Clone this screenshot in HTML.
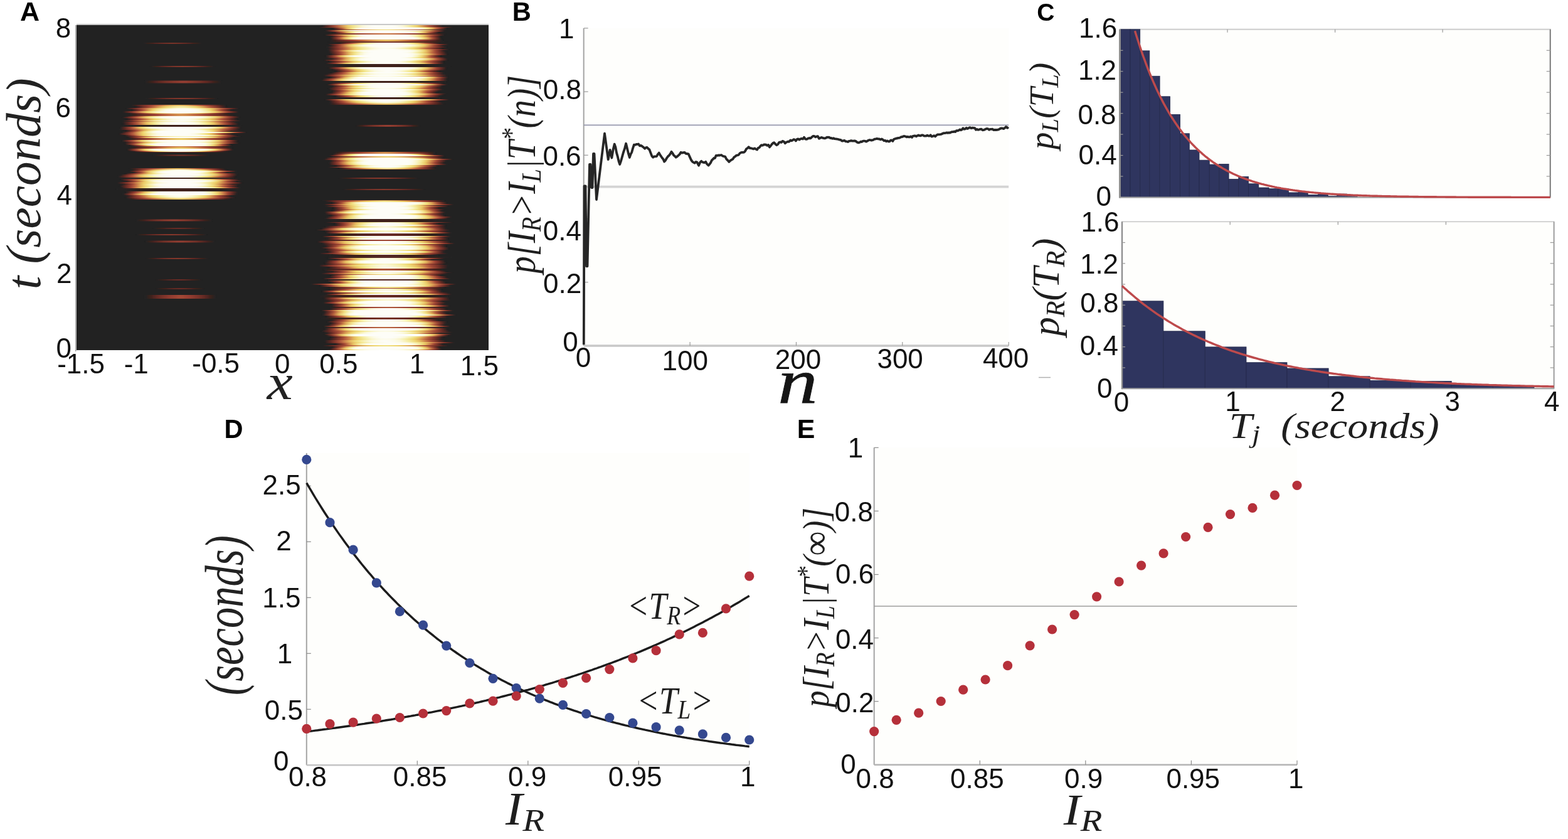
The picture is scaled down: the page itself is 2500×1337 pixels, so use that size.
<!DOCTYPE html><html><head><meta charset="utf-8"><title>Figure</title><style>html,body{margin:0;padding:0;background:#fff;overflow:hidden}svg{display:block}</style></head><body>
<svg width="2500" height="1337" viewBox="0 0 2500 1337">
<defs><linearGradient id="g0"><stop offset="0.000" stop-color="#222222"/><stop offset="0.042" stop-color="#2b2120"/><stop offset="0.083" stop-color="#34201e"/><stop offset="0.125" stop-color="#3d211e"/><stop offset="0.167" stop-color="#47231f"/><stop offset="0.208" stop-color="#512621"/><stop offset="0.250" stop-color="#5a2822"/><stop offset="0.292" stop-color="#622a24"/><stop offset="0.333" stop-color="#682c25"/><stop offset="0.375" stop-color="#6d2e26"/><stop offset="0.417" stop-color="#712f27"/><stop offset="0.458" stop-color="#753128"/><stop offset="0.500" stop-color="#763129"/><stop offset="0.542" stop-color="#753128"/><stop offset="0.583" stop-color="#712f27"/><stop offset="0.625" stop-color="#6d2e26"/><stop offset="0.667" stop-color="#682c25"/><stop offset="0.708" stop-color="#622a24"/><stop offset="0.750" stop-color="#5a2822"/><stop offset="0.792" stop-color="#512621"/><stop offset="0.833" stop-color="#47231f"/><stop offset="0.875" stop-color="#3d211e"/><stop offset="0.917" stop-color="#34201e"/><stop offset="0.958" stop-color="#2b2120"/><stop offset="1.000" stop-color="#222222"/></linearGradient><linearGradient id="g1"><stop offset="0.000" stop-color="#222222"/><stop offset="0.042" stop-color="#2d2120"/><stop offset="0.083" stop-color="#37201d"/><stop offset="0.125" stop-color="#44231f"/><stop offset="0.167" stop-color="#502521"/><stop offset="0.208" stop-color="#5c2823"/><stop offset="0.250" stop-color="#662b24"/><stop offset="0.292" stop-color="#6d2e26"/><stop offset="0.333" stop-color="#743028"/><stop offset="0.375" stop-color="#7a332a"/><stop offset="0.417" stop-color="#7f352b"/><stop offset="0.458" stop-color="#83362c"/><stop offset="0.500" stop-color="#85372c"/><stop offset="0.542" stop-color="#83362c"/><stop offset="0.583" stop-color="#7f352b"/><stop offset="0.625" stop-color="#7a332a"/><stop offset="0.667" stop-color="#743028"/><stop offset="0.708" stop-color="#6d2e26"/><stop offset="0.750" stop-color="#662b24"/><stop offset="0.792" stop-color="#5c2823"/><stop offset="0.833" stop-color="#502521"/><stop offset="0.875" stop-color="#44231f"/><stop offset="0.917" stop-color="#37201d"/><stop offset="0.958" stop-color="#2d2120"/><stop offset="1.000" stop-color="#222222"/></linearGradient><linearGradient id="g2"><stop offset="0.000" stop-color="#222222"/><stop offset="0.042" stop-color="#2f211f"/><stop offset="0.083" stop-color="#3b211e"/><stop offset="0.125" stop-color="#4b2420"/><stop offset="0.167" stop-color="#592822"/><stop offset="0.208" stop-color="#662b24"/><stop offset="0.250" stop-color="#6f2f27"/><stop offset="0.292" stop-color="#783229"/><stop offset="0.333" stop-color="#80352b"/><stop offset="0.375" stop-color="#87382d"/><stop offset="0.417" stop-color="#8d3a2e"/><stop offset="0.458" stop-color="#913c30"/><stop offset="0.500" stop-color="#943d30"/><stop offset="0.542" stop-color="#913c30"/><stop offset="0.583" stop-color="#8d3a2e"/><stop offset="0.625" stop-color="#87382d"/><stop offset="0.667" stop-color="#80352b"/><stop offset="0.708" stop-color="#783229"/><stop offset="0.750" stop-color="#6f2f27"/><stop offset="0.792" stop-color="#662b24"/><stop offset="0.833" stop-color="#592822"/><stop offset="0.875" stop-color="#4b2420"/><stop offset="0.917" stop-color="#3b211e"/><stop offset="0.958" stop-color="#2f211f"/><stop offset="1.000" stop-color="#222222"/></linearGradient><linearGradient id="g3"><stop offset="0.000" stop-color="#222222"/><stop offset="0.042" stop-color="#3c211e"/><stop offset="0.083" stop-color="#5c2823"/><stop offset="0.125" stop-color="#753128"/><stop offset="0.167" stop-color="#8b392e"/><stop offset="0.208" stop-color="#9f4434"/><stop offset="0.250" stop-color="#b0583b"/><stop offset="0.292" stop-color="#bf6a42"/><stop offset="0.333" stop-color="#cc814a"/><stop offset="0.375" stop-color="#d69752"/><stop offset="0.417" stop-color="#dea958"/><stop offset="0.458" stop-color="#e2b45d"/><stop offset="0.500" stop-color="#e4ba5f"/><stop offset="0.542" stop-color="#e2b45d"/><stop offset="0.583" stop-color="#dea958"/><stop offset="0.625" stop-color="#d69752"/><stop offset="0.667" stop-color="#cc814a"/><stop offset="0.708" stop-color="#bf6a42"/><stop offset="0.750" stop-color="#b0583b"/><stop offset="0.792" stop-color="#9f4434"/><stop offset="0.833" stop-color="#8b392e"/><stop offset="0.875" stop-color="#753128"/><stop offset="0.917" stop-color="#5c2823"/><stop offset="0.958" stop-color="#3c211e"/><stop offset="1.000" stop-color="#222222"/></linearGradient><linearGradient id="g4"><stop offset="0.000" stop-color="#222222"/><stop offset="0.042" stop-color="#482420"/><stop offset="0.083" stop-color="#702f27"/><stop offset="0.125" stop-color="#8f3b2f"/><stop offset="0.167" stop-color="#aa5239"/><stop offset="0.208" stop-color="#c36f44"/><stop offset="0.250" stop-color="#d69752"/><stop offset="0.292" stop-color="#e4b85e"/><stop offset="0.333" stop-color="#edd169"/><stop offset="0.375" stop-color="#f0dc7d"/><stop offset="0.417" stop-color="#f3e48f"/><stop offset="0.458" stop-color="#f5ea9d"/><stop offset="0.500" stop-color="#f5eda5"/><stop offset="0.542" stop-color="#f5ea9d"/><stop offset="0.583" stop-color="#f3e48f"/><stop offset="0.625" stop-color="#f0dc7d"/><stop offset="0.667" stop-color="#edd169"/><stop offset="0.708" stop-color="#e4b85e"/><stop offset="0.750" stop-color="#d69752"/><stop offset="0.792" stop-color="#c36f44"/><stop offset="0.833" stop-color="#aa5239"/><stop offset="0.875" stop-color="#8f3b2f"/><stop offset="0.917" stop-color="#702f27"/><stop offset="0.958" stop-color="#482420"/><stop offset="1.000" stop-color="#222222"/></linearGradient><linearGradient id="g5"><stop offset="0.000" stop-color="#222222"/><stop offset="0.042" stop-color="#522621"/><stop offset="0.083" stop-color="#7e342b"/><stop offset="0.125" stop-color="#a24935"/><stop offset="0.167" stop-color="#c36e44"/><stop offset="0.208" stop-color="#dba256"/><stop offset="0.250" stop-color="#eac965"/><stop offset="0.292" stop-color="#f1de80"/><stop offset="0.333" stop-color="#f5eb9d"/><stop offset="0.375" stop-color="#f8f2ba"/><stop offset="0.417" stop-color="#faf7d3"/><stop offset="0.458" stop-color="#fbfae2"/><stop offset="0.500" stop-color="#fcfae6"/><stop offset="0.542" stop-color="#fbfae2"/><stop offset="0.583" stop-color="#faf7d3"/><stop offset="0.625" stop-color="#f8f2ba"/><stop offset="0.667" stop-color="#f5eb9d"/><stop offset="0.708" stop-color="#f1de80"/><stop offset="0.750" stop-color="#eac965"/><stop offset="0.792" stop-color="#dba256"/><stop offset="0.833" stop-color="#c36e44"/><stop offset="0.875" stop-color="#a24935"/><stop offset="0.917" stop-color="#7e342b"/><stop offset="0.958" stop-color="#522621"/><stop offset="1.000" stop-color="#222222"/></linearGradient><linearGradient id="g6"><stop offset="0.000" stop-color="#222222"/><stop offset="0.042" stop-color="#5e2923"/><stop offset="0.083" stop-color="#8f3b2f"/><stop offset="0.125" stop-color="#ba6340"/><stop offset="0.167" stop-color="#dba256"/><stop offset="0.208" stop-color="#eed46a"/><stop offset="0.250" stop-color="#f4e795"/><stop offset="0.292" stop-color="#f8f3c1"/><stop offset="0.333" stop-color="#fbfae3"/><stop offset="0.375" stop-color="#fdfcf3"/><stop offset="0.417" stop-color="#fdfdf7"/><stop offset="0.458" stop-color="#fdfdf7"/><stop offset="0.500" stop-color="#fdfdf7"/><stop offset="0.542" stop-color="#fdfdf7"/><stop offset="0.583" stop-color="#fdfdf7"/><stop offset="0.625" stop-color="#fdfcf3"/><stop offset="0.667" stop-color="#fbfae3"/><stop offset="0.708" stop-color="#f8f3c1"/><stop offset="0.750" stop-color="#f4e795"/><stop offset="0.792" stop-color="#eed46a"/><stop offset="0.833" stop-color="#dba256"/><stop offset="0.875" stop-color="#ba6340"/><stop offset="0.917" stop-color="#8f3b2f"/><stop offset="0.958" stop-color="#5e2923"/><stop offset="1.000" stop-color="#222222"/></linearGradient><linearGradient id="g7"><stop offset="0.000" stop-color="#222222"/><stop offset="0.042" stop-color="#4f2521"/><stop offset="0.083" stop-color="#7a332a"/><stop offset="0.125" stop-color="#9e4333"/><stop offset="0.167" stop-color="#bd6741"/><stop offset="0.208" stop-color="#d59552"/><stop offset="0.250" stop-color="#e6be61"/><stop offset="0.292" stop-color="#efd874"/><stop offset="0.333" stop-color="#f3e590"/><stop offset="0.375" stop-color="#f6eeaa"/><stop offset="0.417" stop-color="#f8f3c1"/><stop offset="0.458" stop-color="#faf7d4"/><stop offset="0.500" stop-color="#fbf9de"/><stop offset="0.542" stop-color="#faf7d4"/><stop offset="0.583" stop-color="#f8f3c1"/><stop offset="0.625" stop-color="#f6eeaa"/><stop offset="0.667" stop-color="#f3e590"/><stop offset="0.708" stop-color="#efd874"/><stop offset="0.750" stop-color="#e6be61"/><stop offset="0.792" stop-color="#d59552"/><stop offset="0.833" stop-color="#bd6741"/><stop offset="0.875" stop-color="#9e4333"/><stop offset="0.917" stop-color="#7a332a"/><stop offset="0.958" stop-color="#4f2521"/><stop offset="1.000" stop-color="#222222"/></linearGradient><linearGradient id="g8"><stop offset="0.000" stop-color="#222222"/><stop offset="0.042" stop-color="#38201d"/><stop offset="0.083" stop-color="#532621"/><stop offset="0.125" stop-color="#6b2d26"/><stop offset="0.167" stop-color="#7d342a"/><stop offset="0.208" stop-color="#8f3b2f"/><stop offset="0.250" stop-color="#9e4434"/><stop offset="0.292" stop-color="#ac543a"/><stop offset="0.333" stop-color="#b8623f"/><stop offset="0.375" stop-color="#c36e44"/><stop offset="0.417" stop-color="#ca7e49"/><stop offset="0.458" stop-color="#d08a4e"/><stop offset="0.500" stop-color="#d39150"/><stop offset="0.542" stop-color="#d08a4e"/><stop offset="0.583" stop-color="#ca7e49"/><stop offset="0.625" stop-color="#c36e44"/><stop offset="0.667" stop-color="#b8623f"/><stop offset="0.708" stop-color="#ac543a"/><stop offset="0.750" stop-color="#9e4434"/><stop offset="0.792" stop-color="#8f3b2f"/><stop offset="0.833" stop-color="#7d342a"/><stop offset="0.875" stop-color="#6b2d26"/><stop offset="0.917" stop-color="#532621"/><stop offset="0.958" stop-color="#38201d"/><stop offset="1.000" stop-color="#222222"/></linearGradient><linearGradient id="g9"><stop offset="0.000" stop-color="#222222"/><stop offset="0.042" stop-color="#602923"/><stop offset="0.083" stop-color="#933d30"/><stop offset="0.125" stop-color="#bf6942"/><stop offset="0.167" stop-color="#dfac5a"/><stop offset="0.208" stop-color="#efd874"/><stop offset="0.250" stop-color="#f5eca0"/><stop offset="0.292" stop-color="#faf6cf"/><stop offset="0.333" stop-color="#fcfbea"/><stop offset="0.375" stop-color="#fdfdf7"/><stop offset="0.417" stop-color="#fdfdf7"/><stop offset="0.458" stop-color="#fdfdf7"/><stop offset="0.500" stop-color="#fdfdf7"/><stop offset="0.542" stop-color="#fdfdf7"/><stop offset="0.583" stop-color="#fdfdf7"/><stop offset="0.625" stop-color="#fdfdf7"/><stop offset="0.667" stop-color="#fcfbea"/><stop offset="0.708" stop-color="#faf6cf"/><stop offset="0.750" stop-color="#f5eca0"/><stop offset="0.792" stop-color="#efd874"/><stop offset="0.833" stop-color="#dfac5a"/><stop offset="0.875" stop-color="#bf6942"/><stop offset="0.917" stop-color="#933d30"/><stop offset="0.958" stop-color="#602923"/><stop offset="1.000" stop-color="#222222"/></linearGradient><linearGradient id="g10"><stop offset="0.000" stop-color="#222222"/><stop offset="0.042" stop-color="#5b2823"/><stop offset="0.083" stop-color="#8c3a2e"/><stop offset="0.125" stop-color="#b55e3e"/><stop offset="0.167" stop-color="#d69852"/><stop offset="0.208" stop-color="#ebcb66"/><stop offset="0.250" stop-color="#f2e28a"/><stop offset="0.292" stop-color="#f7f0b3"/><stop offset="0.333" stop-color="#fbf8da"/><stop offset="0.375" stop-color="#fcfbec"/><stop offset="0.417" stop-color="#fdfdf7"/><stop offset="0.458" stop-color="#fdfdf7"/><stop offset="0.500" stop-color="#fdfdf7"/><stop offset="0.542" stop-color="#fdfdf7"/><stop offset="0.583" stop-color="#fdfdf7"/><stop offset="0.625" stop-color="#fcfbec"/><stop offset="0.667" stop-color="#fbf8da"/><stop offset="0.708" stop-color="#f7f0b3"/><stop offset="0.750" stop-color="#f2e28a"/><stop offset="0.792" stop-color="#ebcb66"/><stop offset="0.833" stop-color="#d69852"/><stop offset="0.875" stop-color="#b55e3e"/><stop offset="0.917" stop-color="#8c3a2e"/><stop offset="0.958" stop-color="#5b2823"/><stop offset="1.000" stop-color="#222222"/></linearGradient><linearGradient id="g11"><stop offset="0.000" stop-color="#222222"/><stop offset="0.042" stop-color="#652a24"/><stop offset="0.083" stop-color="#9a4032"/><stop offset="0.125" stop-color="#c77647"/><stop offset="0.167" stop-color="#e5bc60"/><stop offset="0.208" stop-color="#f2e086"/><stop offset="0.250" stop-color="#f7f1b9"/><stop offset="0.292" stop-color="#fbfae4"/><stop offset="0.333" stop-color="#fdfdf7"/><stop offset="0.375" stop-color="#fdfdf7"/><stop offset="0.417" stop-color="#fdfdf7"/><stop offset="0.458" stop-color="#fdfdf7"/><stop offset="0.500" stop-color="#fdfdf7"/><stop offset="0.542" stop-color="#fdfdf7"/><stop offset="0.583" stop-color="#fdfdf7"/><stop offset="0.625" stop-color="#fdfdf7"/><stop offset="0.667" stop-color="#fdfdf7"/><stop offset="0.708" stop-color="#fbfae4"/><stop offset="0.750" stop-color="#f7f1b9"/><stop offset="0.792" stop-color="#f2e086"/><stop offset="0.833" stop-color="#e5bc60"/><stop offset="0.875" stop-color="#c77647"/><stop offset="0.917" stop-color="#9a4032"/><stop offset="0.958" stop-color="#652a24"/><stop offset="1.000" stop-color="#222222"/></linearGradient><linearGradient id="g12"><stop offset="0.000" stop-color="#222222"/><stop offset="0.042" stop-color="#592722"/><stop offset="0.083" stop-color="#88382d"/><stop offset="0.125" stop-color="#b1593c"/><stop offset="0.167" stop-color="#d28d4f"/><stop offset="0.208" stop-color="#e7c162"/><stop offset="0.250" stop-color="#f1de80"/><stop offset="0.292" stop-color="#f5eda5"/><stop offset="0.333" stop-color="#f9f5cb"/><stop offset="0.375" stop-color="#fcfae4"/><stop offset="0.417" stop-color="#fcfcf1"/><stop offset="0.458" stop-color="#fdfdf7"/><stop offset="0.500" stop-color="#fdfdf7"/><stop offset="0.542" stop-color="#fdfdf7"/><stop offset="0.583" stop-color="#fcfcf1"/><stop offset="0.625" stop-color="#fcfae4"/><stop offset="0.667" stop-color="#f9f5cb"/><stop offset="0.708" stop-color="#f5eda5"/><stop offset="0.750" stop-color="#f1de80"/><stop offset="0.792" stop-color="#e7c162"/><stop offset="0.833" stop-color="#d28d4f"/><stop offset="0.875" stop-color="#b1593c"/><stop offset="0.917" stop-color="#88382d"/><stop offset="0.958" stop-color="#592722"/><stop offset="1.000" stop-color="#222222"/></linearGradient><linearGradient id="g13"><stop offset="0.000" stop-color="#222222"/><stop offset="0.042" stop-color="#542621"/><stop offset="0.083" stop-color="#81362b"/><stop offset="0.125" stop-color="#a74e37"/><stop offset="0.167" stop-color="#c87847"/><stop offset="0.208" stop-color="#e0ad5a"/><stop offset="0.250" stop-color="#eed46a"/><stop offset="0.292" stop-color="#f2e38c"/><stop offset="0.333" stop-color="#f6efac"/><stop offset="0.375" stop-color="#f9f5cb"/><stop offset="0.417" stop-color="#fbf9e1"/><stop offset="0.458" stop-color="#fcfbea"/><stop offset="0.500" stop-color="#fcfcef"/><stop offset="0.542" stop-color="#fcfbea"/><stop offset="0.583" stop-color="#fbf9e1"/><stop offset="0.625" stop-color="#f9f5cb"/><stop offset="0.667" stop-color="#f6efac"/><stop offset="0.708" stop-color="#f2e38c"/><stop offset="0.750" stop-color="#eed46a"/><stop offset="0.792" stop-color="#e0ad5a"/><stop offset="0.833" stop-color="#c87847"/><stop offset="0.875" stop-color="#a74e37"/><stop offset="0.917" stop-color="#81362b"/><stop offset="0.958" stop-color="#542621"/><stop offset="1.000" stop-color="#222222"/></linearGradient><linearGradient id="g14"><stop offset="0.000" stop-color="#222222"/><stop offset="0.042" stop-color="#262221"/><stop offset="0.083" stop-color="#292120"/><stop offset="0.125" stop-color="#2c2120"/><stop offset="0.167" stop-color="#2f211f"/><stop offset="0.208" stop-color="#32211e"/><stop offset="0.250" stop-color="#35201e"/><stop offset="0.292" stop-color="#37201d"/><stop offset="0.333" stop-color="#3a211d"/><stop offset="0.375" stop-color="#3d211e"/><stop offset="0.417" stop-color="#3f221e"/><stop offset="0.458" stop-color="#41221e"/><stop offset="0.500" stop-color="#42221f"/><stop offset="0.542" stop-color="#41221e"/><stop offset="0.583" stop-color="#3f221e"/><stop offset="0.625" stop-color="#3d211e"/><stop offset="0.667" stop-color="#3a211d"/><stop offset="0.708" stop-color="#37201d"/><stop offset="0.750" stop-color="#35201e"/><stop offset="0.792" stop-color="#32211e"/><stop offset="0.833" stop-color="#2f211f"/><stop offset="0.875" stop-color="#2c2120"/><stop offset="0.917" stop-color="#292120"/><stop offset="0.958" stop-color="#262221"/><stop offset="1.000" stop-color="#222222"/></linearGradient><linearGradient id="g15"><stop offset="0.000" stop-color="#222222"/><stop offset="0.042" stop-color="#682c25"/><stop offset="0.083" stop-color="#a04634"/><stop offset="0.125" stop-color="#cf874d"/><stop offset="0.167" stop-color="#ebcc67"/><stop offset="0.208" stop-color="#f4e998"/><stop offset="0.250" stop-color="#faf6d1"/><stop offset="0.292" stop-color="#fcfcf0"/><stop offset="0.333" stop-color="#fdfdf7"/><stop offset="0.375" stop-color="#fdfdf7"/><stop offset="0.417" stop-color="#fdfdf7"/><stop offset="0.458" stop-color="#fdfdf7"/><stop offset="0.500" stop-color="#fdfdf7"/><stop offset="0.542" stop-color="#fdfdf7"/><stop offset="0.583" stop-color="#fdfdf7"/><stop offset="0.625" stop-color="#fdfdf7"/><stop offset="0.667" stop-color="#fdfdf7"/><stop offset="0.708" stop-color="#fcfcf0"/><stop offset="0.750" stop-color="#faf6d1"/><stop offset="0.792" stop-color="#f4e998"/><stop offset="0.833" stop-color="#ebcc67"/><stop offset="0.875" stop-color="#cf874d"/><stop offset="0.917" stop-color="#a04634"/><stop offset="0.958" stop-color="#682c25"/><stop offset="1.000" stop-color="#222222"/></linearGradient><linearGradient id="g16"><stop offset="0.000" stop-color="#222222"/><stop offset="0.042" stop-color="#6c2d26"/><stop offset="0.083" stop-color="#a74d37"/><stop offset="0.125" stop-color="#d69752"/><stop offset="0.167" stop-color="#efd771"/><stop offset="0.208" stop-color="#f6efad"/><stop offset="0.250" stop-color="#fbfae3"/><stop offset="0.292" stop-color="#fdfdf7"/><stop offset="0.333" stop-color="#fdfdf7"/><stop offset="0.375" stop-color="#fdfdf7"/><stop offset="0.417" stop-color="#fdfdf7"/><stop offset="0.458" stop-color="#fdfdf7"/><stop offset="0.500" stop-color="#fdfdf7"/><stop offset="0.542" stop-color="#fdfdf7"/><stop offset="0.583" stop-color="#fdfdf7"/><stop offset="0.625" stop-color="#fdfdf7"/><stop offset="0.667" stop-color="#fdfdf7"/><stop offset="0.708" stop-color="#fdfdf7"/><stop offset="0.750" stop-color="#fbfae3"/><stop offset="0.792" stop-color="#f6efad"/><stop offset="0.833" stop-color="#efd771"/><stop offset="0.875" stop-color="#d69752"/><stop offset="0.917" stop-color="#a74d37"/><stop offset="0.958" stop-color="#6c2d26"/><stop offset="1.000" stop-color="#222222"/></linearGradient><linearGradient id="g17"><stop offset="0.000" stop-color="#222222"/><stop offset="0.042" stop-color="#4b2420"/><stop offset="0.083" stop-color="#733028"/><stop offset="0.125" stop-color="#943d30"/><stop offset="0.167" stop-color="#b1593c"/><stop offset="0.208" stop-color="#c97c49"/><stop offset="0.250" stop-color="#dda657"/><stop offset="0.292" stop-color="#e8c564"/><stop offset="0.333" stop-color="#efd975"/><stop offset="0.375" stop-color="#f2e38b"/><stop offset="0.417" stop-color="#f5eb9e"/><stop offset="0.458" stop-color="#f6efaf"/><stop offset="0.500" stop-color="#f7f1b8"/><stop offset="0.542" stop-color="#f6efaf"/><stop offset="0.583" stop-color="#f5eb9e"/><stop offset="0.625" stop-color="#f2e38b"/><stop offset="0.667" stop-color="#efd975"/><stop offset="0.708" stop-color="#e8c564"/><stop offset="0.750" stop-color="#dda657"/><stop offset="0.792" stop-color="#c97c49"/><stop offset="0.833" stop-color="#b1593c"/><stop offset="0.875" stop-color="#943d30"/><stop offset="0.917" stop-color="#733028"/><stop offset="0.958" stop-color="#4b2420"/><stop offset="1.000" stop-color="#222222"/></linearGradient><linearGradient id="g18"><stop offset="0.000" stop-color="#222222"/><stop offset="0.042" stop-color="#622a24"/><stop offset="0.083" stop-color="#963e31"/><stop offset="0.125" stop-color="#c36e44"/><stop offset="0.167" stop-color="#e2b45d"/><stop offset="0.208" stop-color="#f0dc7d"/><stop offset="0.250" stop-color="#f6efac"/><stop offset="0.292" stop-color="#fbf9dd"/><stop offset="0.333" stop-color="#fcfcf1"/><stop offset="0.375" stop-color="#fdfdf7"/><stop offset="0.417" stop-color="#fdfdf7"/><stop offset="0.458" stop-color="#fdfdf7"/><stop offset="0.500" stop-color="#fdfdf7"/><stop offset="0.542" stop-color="#fdfdf7"/><stop offset="0.583" stop-color="#fdfdf7"/><stop offset="0.625" stop-color="#fdfdf7"/><stop offset="0.667" stop-color="#fcfcf1"/><stop offset="0.708" stop-color="#fbf9dd"/><stop offset="0.750" stop-color="#f6efac"/><stop offset="0.792" stop-color="#f0dc7d"/><stop offset="0.833" stop-color="#e2b45d"/><stop offset="0.875" stop-color="#c36e44"/><stop offset="0.917" stop-color="#963e31"/><stop offset="0.958" stop-color="#622a24"/><stop offset="1.000" stop-color="#222222"/></linearGradient><linearGradient id="g19"><stop offset="0.000" stop-color="#222222"/><stop offset="0.042" stop-color="#3f211e"/><stop offset="0.083" stop-color="#612923"/><stop offset="0.125" stop-color="#7a332a"/><stop offset="0.167" stop-color="#913c30"/><stop offset="0.208" stop-color="#a64d37"/><stop offset="0.250" stop-color="#b8623f"/><stop offset="0.292" stop-color="#c87948"/><stop offset="0.333" stop-color="#d49351"/><stop offset="0.375" stop-color="#dfaa59"/><stop offset="0.417" stop-color="#e4b95f"/><stop offset="0.458" stop-color="#e8c564"/><stop offset="0.500" stop-color="#ebcb66"/><stop offset="0.542" stop-color="#e8c564"/><stop offset="0.583" stop-color="#e4b95f"/><stop offset="0.625" stop-color="#dfaa59"/><stop offset="0.667" stop-color="#d49351"/><stop offset="0.708" stop-color="#c87948"/><stop offset="0.750" stop-color="#b8623f"/><stop offset="0.792" stop-color="#a64d37"/><stop offset="0.833" stop-color="#913c30"/><stop offset="0.875" stop-color="#7a332a"/><stop offset="0.917" stop-color="#612923"/><stop offset="0.958" stop-color="#3f211e"/><stop offset="1.000" stop-color="#222222"/></linearGradient><linearGradient id="g20"><stop offset="0.000" stop-color="#222222"/><stop offset="0.042" stop-color="#6f2f27"/><stop offset="0.083" stop-color="#ad553a"/><stop offset="0.125" stop-color="#dea758"/><stop offset="0.167" stop-color="#f1de81"/><stop offset="0.208" stop-color="#f8f3c2"/><stop offset="0.250" stop-color="#fcfcee"/><stop offset="0.292" stop-color="#fdfdf7"/><stop offset="0.333" stop-color="#fdfdf7"/><stop offset="0.375" stop-color="#fdfdf7"/><stop offset="0.417" stop-color="#fdfdf7"/><stop offset="0.458" stop-color="#fdfdf7"/><stop offset="0.500" stop-color="#fdfdf7"/><stop offset="0.542" stop-color="#fdfdf7"/><stop offset="0.583" stop-color="#fdfdf7"/><stop offset="0.625" stop-color="#fdfdf7"/><stop offset="0.667" stop-color="#fdfdf7"/><stop offset="0.708" stop-color="#fdfdf7"/><stop offset="0.750" stop-color="#fcfcee"/><stop offset="0.792" stop-color="#f8f3c2"/><stop offset="0.833" stop-color="#f1de81"/><stop offset="0.875" stop-color="#dea758"/><stop offset="0.917" stop-color="#ad553a"/><stop offset="0.958" stop-color="#6f2f27"/><stop offset="1.000" stop-color="#222222"/></linearGradient><linearGradient id="g21"><stop offset="0.000" stop-color="#222222"/><stop offset="0.042" stop-color="#662b25"/><stop offset="0.083" stop-color="#9d4233"/><stop offset="0.125" stop-color="#cb7f4a"/><stop offset="0.167" stop-color="#e8c463"/><stop offset="0.208" stop-color="#f3e58f"/><stop offset="0.250" stop-color="#f9f4c5"/><stop offset="0.292" stop-color="#fcfbea"/><stop offset="0.333" stop-color="#fdfdf7"/><stop offset="0.375" stop-color="#fdfdf7"/><stop offset="0.417" stop-color="#fdfdf7"/><stop offset="0.458" stop-color="#fdfdf7"/><stop offset="0.500" stop-color="#fdfdf7"/><stop offset="0.542" stop-color="#fdfdf7"/><stop offset="0.583" stop-color="#fdfdf7"/><stop offset="0.625" stop-color="#fdfdf7"/><stop offset="0.667" stop-color="#fdfdf7"/><stop offset="0.708" stop-color="#fcfbea"/><stop offset="0.750" stop-color="#f9f4c5"/><stop offset="0.792" stop-color="#f3e58f"/><stop offset="0.833" stop-color="#e8c463"/><stop offset="0.875" stop-color="#cb7f4a"/><stop offset="0.917" stop-color="#9d4233"/><stop offset="0.958" stop-color="#662b25"/><stop offset="1.000" stop-color="#222222"/></linearGradient><linearGradient id="g22"><stop offset="0.000" stop-color="#222222"/><stop offset="0.042" stop-color="#6a2c26"/><stop offset="0.083" stop-color="#a34a36"/><stop offset="0.125" stop-color="#d28f4f"/><stop offset="0.167" stop-color="#eed46a"/><stop offset="0.208" stop-color="#f5eca2"/><stop offset="0.250" stop-color="#fbf9de"/><stop offset="0.292" stop-color="#fdfdf6"/><stop offset="0.333" stop-color="#fdfdf7"/><stop offset="0.375" stop-color="#fdfdf7"/><stop offset="0.417" stop-color="#fdfdf7"/><stop offset="0.458" stop-color="#fdfdf7"/><stop offset="0.500" stop-color="#fdfdf7"/><stop offset="0.542" stop-color="#fdfdf7"/><stop offset="0.583" stop-color="#fdfdf7"/><stop offset="0.625" stop-color="#fdfdf7"/><stop offset="0.667" stop-color="#fdfdf7"/><stop offset="0.708" stop-color="#fdfdf6"/><stop offset="0.750" stop-color="#fbf9de"/><stop offset="0.792" stop-color="#f5eca2"/><stop offset="0.833" stop-color="#eed46a"/><stop offset="0.875" stop-color="#d28f4f"/><stop offset="0.917" stop-color="#a34a36"/><stop offset="0.958" stop-color="#6a2c26"/><stop offset="1.000" stop-color="#222222"/></linearGradient><linearGradient id="g23"><stop offset="0.000" stop-color="#222222"/><stop offset="0.042" stop-color="#562722"/><stop offset="0.083" stop-color="#85372c"/><stop offset="0.125" stop-color="#ac533a"/><stop offset="0.167" stop-color="#cd834b"/><stop offset="0.208" stop-color="#e4b75e"/><stop offset="0.250" stop-color="#efd975"/><stop offset="0.292" stop-color="#f4e998"/><stop offset="0.333" stop-color="#f8f2bb"/><stop offset="0.375" stop-color="#fbf8dc"/><stop offset="0.417" stop-color="#fcfbe9"/><stop offset="0.458" stop-color="#fdfcf2"/><stop offset="0.500" stop-color="#fdfdf7"/><stop offset="0.542" stop-color="#fdfcf2"/><stop offset="0.583" stop-color="#fcfbe9"/><stop offset="0.625" stop-color="#fbf8dc"/><stop offset="0.667" stop-color="#f8f2bb"/><stop offset="0.708" stop-color="#f4e998"/><stop offset="0.750" stop-color="#efd975"/><stop offset="0.792" stop-color="#e4b75e"/><stop offset="0.833" stop-color="#cd834b"/><stop offset="0.875" stop-color="#ac533a"/><stop offset="0.917" stop-color="#85372c"/><stop offset="0.958" stop-color="#562722"/><stop offset="1.000" stop-color="#222222"/></linearGradient><linearGradient id="g24"><stop offset="0.000" stop-color="#222222"/><stop offset="0.042" stop-color="#4d2520"/><stop offset="0.083" stop-color="#773129"/><stop offset="0.125" stop-color="#993f31"/><stop offset="0.167" stop-color="#b7603e"/><stop offset="0.208" stop-color="#cf894d"/><stop offset="0.250" stop-color="#e2b25c"/><stop offset="0.292" stop-color="#edd169"/><stop offset="0.333" stop-color="#f1df82"/><stop offset="0.375" stop-color="#f4e99a"/><stop offset="0.417" stop-color="#f7efb0"/><stop offset="0.458" stop-color="#f8f3c1"/><stop offset="0.500" stop-color="#f9f5cb"/><stop offset="0.542" stop-color="#f8f3c1"/><stop offset="0.583" stop-color="#f7efb0"/><stop offset="0.625" stop-color="#f4e99a"/><stop offset="0.667" stop-color="#f1df82"/><stop offset="0.708" stop-color="#edd169"/><stop offset="0.750" stop-color="#e2b25c"/><stop offset="0.792" stop-color="#cf894d"/><stop offset="0.833" stop-color="#b7603e"/><stop offset="0.875" stop-color="#993f31"/><stop offset="0.917" stop-color="#773129"/><stop offset="0.958" stop-color="#4d2520"/><stop offset="1.000" stop-color="#222222"/></linearGradient><linearGradient id="g25"><stop offset="0.000" stop-color="#222222"/><stop offset="0.042" stop-color="#292120"/><stop offset="0.083" stop-color="#30211f"/><stop offset="0.125" stop-color="#37201d"/><stop offset="0.167" stop-color="#3e211e"/><stop offset="0.208" stop-color="#46231f"/><stop offset="0.250" stop-color="#4d2520"/><stop offset="0.292" stop-color="#542621"/><stop offset="0.333" stop-color="#5a2822"/><stop offset="0.375" stop-color="#5f2923"/><stop offset="0.417" stop-color="#642a24"/><stop offset="0.458" stop-color="#662b25"/><stop offset="0.500" stop-color="#682b25"/><stop offset="0.542" stop-color="#662b25"/><stop offset="0.583" stop-color="#642a24"/><stop offset="0.625" stop-color="#5f2923"/><stop offset="0.667" stop-color="#5a2822"/><stop offset="0.708" stop-color="#542621"/><stop offset="0.750" stop-color="#4d2520"/><stop offset="0.792" stop-color="#46231f"/><stop offset="0.833" stop-color="#3e211e"/><stop offset="0.875" stop-color="#37201d"/><stop offset="0.917" stop-color="#30211f"/><stop offset="0.958" stop-color="#292120"/><stop offset="1.000" stop-color="#222222"/></linearGradient><linearGradient id="g26"><stop offset="0.000" stop-color="#222222"/><stop offset="0.042" stop-color="#30211f"/><stop offset="0.083" stop-color="#40221e"/><stop offset="0.125" stop-color="#512621"/><stop offset="0.167" stop-color="#622a24"/><stop offset="0.208" stop-color="#6e2e27"/><stop offset="0.250" stop-color="#793229"/><stop offset="0.292" stop-color="#83362c"/><stop offset="0.333" stop-color="#8c3a2e"/><stop offset="0.375" stop-color="#943d30"/><stop offset="0.417" stop-color="#9a4032"/><stop offset="0.458" stop-color="#9f4534"/><stop offset="0.500" stop-color="#a24835"/><stop offset="0.542" stop-color="#9f4534"/><stop offset="0.583" stop-color="#9a4032"/><stop offset="0.625" stop-color="#943d30"/><stop offset="0.667" stop-color="#8c3a2e"/><stop offset="0.708" stop-color="#83362c"/><stop offset="0.750" stop-color="#793229"/><stop offset="0.792" stop-color="#6e2e27"/><stop offset="0.833" stop-color="#622a24"/><stop offset="0.875" stop-color="#512621"/><stop offset="0.917" stop-color="#40221e"/><stop offset="0.958" stop-color="#30211f"/><stop offset="1.000" stop-color="#222222"/></linearGradient><linearGradient id="g27"><stop offset="0.000" stop-color="#222222"/><stop offset="0.042" stop-color="#712f27"/><stop offset="0.083" stop-color="#b0583c"/><stop offset="0.125" stop-color="#e0ae5a"/><stop offset="0.167" stop-color="#f2e188"/><stop offset="0.208" stop-color="#f9f5cc"/><stop offset="0.250" stop-color="#fdfcf3"/><stop offset="0.292" stop-color="#fdfdf7"/><stop offset="0.333" stop-color="#fdfdf7"/><stop offset="0.375" stop-color="#fdfdf7"/><stop offset="0.417" stop-color="#fdfdf7"/><stop offset="0.458" stop-color="#fdfdf7"/><stop offset="0.500" stop-color="#fdfdf7"/><stop offset="0.542" stop-color="#fdfdf7"/><stop offset="0.583" stop-color="#fdfdf7"/><stop offset="0.625" stop-color="#fdfdf7"/><stop offset="0.667" stop-color="#fdfdf7"/><stop offset="0.708" stop-color="#fdfdf7"/><stop offset="0.750" stop-color="#fdfcf3"/><stop offset="0.792" stop-color="#f9f5cc"/><stop offset="0.833" stop-color="#f2e188"/><stop offset="0.875" stop-color="#e0ae5a"/><stop offset="0.917" stop-color="#b0583c"/><stop offset="0.958" stop-color="#712f27"/><stop offset="1.000" stop-color="#222222"/></linearGradient><linearGradient id="g28"><stop offset="0.000" stop-color="#222222"/><stop offset="0.042" stop-color="#41221e"/><stop offset="0.083" stop-color="#652a24"/><stop offset="0.125" stop-color="#7f352b"/><stop offset="0.167" stop-color="#983f31"/><stop offset="0.208" stop-color="#ad553a"/><stop offset="0.250" stop-color="#c16c43"/><stop offset="0.292" stop-color="#d08a4e"/><stop offset="0.333" stop-color="#dda657"/><stop offset="0.375" stop-color="#e4ba5f"/><stop offset="0.417" stop-color="#eaca66"/><stop offset="0.458" stop-color="#eed56c"/><stop offset="0.500" stop-color="#efd872"/><stop offset="0.542" stop-color="#eed56c"/><stop offset="0.583" stop-color="#eaca66"/><stop offset="0.625" stop-color="#e4ba5f"/><stop offset="0.667" stop-color="#dda657"/><stop offset="0.708" stop-color="#d08a4e"/><stop offset="0.750" stop-color="#c16c43"/><stop offset="0.792" stop-color="#ad553a"/><stop offset="0.833" stop-color="#983f31"/><stop offset="0.875" stop-color="#7f352b"/><stop offset="0.917" stop-color="#652a24"/><stop offset="0.958" stop-color="#41221e"/><stop offset="1.000" stop-color="#222222"/></linearGradient><linearGradient id="g29"><stop offset="0.000" stop-color="#222222"/><stop offset="0.042" stop-color="#733028"/><stop offset="0.083" stop-color="#b35c3d"/><stop offset="0.125" stop-color="#e2b45d"/><stop offset="0.167" stop-color="#f3e590"/><stop offset="0.208" stop-color="#faf7d7"/><stop offset="0.250" stop-color="#fdfdf7"/><stop offset="0.292" stop-color="#fdfdf7"/><stop offset="0.333" stop-color="#fdfdf7"/><stop offset="0.375" stop-color="#fdfdf7"/><stop offset="0.417" stop-color="#fdfdf7"/><stop offset="0.458" stop-color="#fdfdf7"/><stop offset="0.500" stop-color="#fdfdf7"/><stop offset="0.542" stop-color="#fdfdf7"/><stop offset="0.583" stop-color="#fdfdf7"/><stop offset="0.625" stop-color="#fdfdf7"/><stop offset="0.667" stop-color="#fdfdf7"/><stop offset="0.708" stop-color="#fdfdf7"/><stop offset="0.750" stop-color="#fdfdf7"/><stop offset="0.792" stop-color="#faf7d7"/><stop offset="0.833" stop-color="#f3e590"/><stop offset="0.875" stop-color="#e2b45d"/><stop offset="0.917" stop-color="#b35c3d"/><stop offset="0.958" stop-color="#733028"/><stop offset="1.000" stop-color="#222222"/></linearGradient><linearGradient id="g30"><stop offset="0.000" stop-color="#222222"/><stop offset="0.042" stop-color="#36201e"/><stop offset="0.083" stop-color="#4e2521"/><stop offset="0.125" stop-color="#662b24"/><stop offset="0.167" stop-color="#773129"/><stop offset="0.208" stop-color="#86382d"/><stop offset="0.250" stop-color="#953e31"/><stop offset="0.292" stop-color="#a24835"/><stop offset="0.333" stop-color="#ad553a"/><stop offset="0.375" stop-color="#b7613f"/><stop offset="0.417" stop-color="#c06a43"/><stop offset="0.458" stop-color="#c67346"/><stop offset="0.500" stop-color="#c87a48"/><stop offset="0.542" stop-color="#c67346"/><stop offset="0.583" stop-color="#c06a43"/><stop offset="0.625" stop-color="#b7613f"/><stop offset="0.667" stop-color="#ad553a"/><stop offset="0.708" stop-color="#a24835"/><stop offset="0.750" stop-color="#953e31"/><stop offset="0.792" stop-color="#86382d"/><stop offset="0.833" stop-color="#773129"/><stop offset="0.875" stop-color="#662b24"/><stop offset="0.917" stop-color="#4e2521"/><stop offset="0.958" stop-color="#36201e"/><stop offset="1.000" stop-color="#222222"/></linearGradient><linearGradient id="g31"><stop offset="0.000" stop-color="#222222"/><stop offset="0.042" stop-color="#6e2e26"/><stop offset="0.083" stop-color="#aa5139"/><stop offset="0.125" stop-color="#da9f55"/><stop offset="0.167" stop-color="#f0db79"/><stop offset="0.208" stop-color="#f7f1b7"/><stop offset="0.250" stop-color="#fcfbe9"/><stop offset="0.292" stop-color="#fdfdf7"/><stop offset="0.333" stop-color="#fdfdf7"/><stop offset="0.375" stop-color="#fdfdf7"/><stop offset="0.417" stop-color="#fdfdf7"/><stop offset="0.458" stop-color="#fdfdf7"/><stop offset="0.500" stop-color="#fdfdf7"/><stop offset="0.542" stop-color="#fdfdf7"/><stop offset="0.583" stop-color="#fdfdf7"/><stop offset="0.625" stop-color="#fdfdf7"/><stop offset="0.667" stop-color="#fdfdf7"/><stop offset="0.708" stop-color="#fdfdf7"/><stop offset="0.750" stop-color="#fcfbe9"/><stop offset="0.792" stop-color="#f7f1b7"/><stop offset="0.833" stop-color="#f0db79"/><stop offset="0.875" stop-color="#da9f55"/><stop offset="0.917" stop-color="#aa5139"/><stop offset="0.958" stop-color="#6e2e26"/><stop offset="1.000" stop-color="#222222"/></linearGradient><linearGradient id="g32"><stop offset="0.000" stop-color="#222222"/><stop offset="0.042" stop-color="#3a201d"/><stop offset="0.083" stop-color="#572722"/><stop offset="0.125" stop-color="#702f27"/><stop offset="0.167" stop-color="#84372c"/><stop offset="0.208" stop-color="#973e31"/><stop offset="0.250" stop-color="#a74e37"/><stop offset="0.292" stop-color="#b65f3e"/><stop offset="0.333" stop-color="#c36e44"/><stop offset="0.375" stop-color="#cc824b"/><stop offset="0.417" stop-color="#d49351"/><stop offset="0.458" stop-color="#dba155"/><stop offset="0.500" stop-color="#dea858"/><stop offset="0.542" stop-color="#dba155"/><stop offset="0.583" stop-color="#d49351"/><stop offset="0.625" stop-color="#cc824b"/><stop offset="0.667" stop-color="#c36e44"/><stop offset="0.708" stop-color="#b65f3e"/><stop offset="0.750" stop-color="#a74e37"/><stop offset="0.792" stop-color="#973e31"/><stop offset="0.833" stop-color="#84372c"/><stop offset="0.875" stop-color="#702f27"/><stop offset="0.917" stop-color="#572722"/><stop offset="0.958" stop-color="#3a201d"/><stop offset="1.000" stop-color="#222222"/></linearGradient><linearGradient id="g33"><stop offset="0.000" stop-color="#222222"/><stop offset="0.042" stop-color="#46231f"/><stop offset="0.083" stop-color="#6c2d26"/><stop offset="0.125" stop-color="#8a392e"/><stop offset="0.167" stop-color="#a44b36"/><stop offset="0.208" stop-color="#bc6641"/><stop offset="0.250" stop-color="#cf884d"/><stop offset="0.292" stop-color="#dfab59"/><stop offset="0.333" stop-color="#e8c363"/><stop offset="0.375" stop-color="#efd66e"/><stop offset="0.417" stop-color="#f1dd7f"/><stop offset="0.458" stop-color="#f2e38c"/><stop offset="0.500" stop-color="#f3e694"/><stop offset="0.542" stop-color="#f2e38c"/><stop offset="0.583" stop-color="#f1dd7f"/><stop offset="0.625" stop-color="#efd66e"/><stop offset="0.667" stop-color="#e8c363"/><stop offset="0.708" stop-color="#dfab59"/><stop offset="0.750" stop-color="#cf884d"/><stop offset="0.792" stop-color="#bc6641"/><stop offset="0.833" stop-color="#a44b36"/><stop offset="0.875" stop-color="#8a392e"/><stop offset="0.917" stop-color="#6c2d26"/><stop offset="0.958" stop-color="#46231f"/><stop offset="1.000" stop-color="#222222"/></linearGradient><linearGradient id="g34"><stop offset="0.000" stop-color="#222222"/><stop offset="0.042" stop-color="#272221"/><stop offset="0.083" stop-color="#2d2120"/><stop offset="0.125" stop-color="#31211e"/><stop offset="0.167" stop-color="#36201d"/><stop offset="0.208" stop-color="#3b211e"/><stop offset="0.250" stop-color="#41221e"/><stop offset="0.292" stop-color="#46231f"/><stop offset="0.333" stop-color="#4a2420"/><stop offset="0.375" stop-color="#4e2520"/><stop offset="0.417" stop-color="#512621"/><stop offset="0.458" stop-color="#542621"/><stop offset="0.500" stop-color="#552722"/><stop offset="0.542" stop-color="#542621"/><stop offset="0.583" stop-color="#512621"/><stop offset="0.625" stop-color="#4e2520"/><stop offset="0.667" stop-color="#4a2420"/><stop offset="0.708" stop-color="#46231f"/><stop offset="0.750" stop-color="#41221e"/><stop offset="0.792" stop-color="#3b211e"/><stop offset="0.833" stop-color="#36201d"/><stop offset="0.875" stop-color="#31211e"/><stop offset="0.917" stop-color="#2d2120"/><stop offset="0.958" stop-color="#272221"/><stop offset="1.000" stop-color="#222222"/></linearGradient><linearGradient id="g35"><stop offset="0.000" stop-color="#222222"/><stop offset="0.042" stop-color="#32211e"/><stop offset="0.083" stop-color="#45231f"/><stop offset="0.125" stop-color="#582722"/><stop offset="0.167" stop-color="#692c25"/><stop offset="0.208" stop-color="#763129"/><stop offset="0.250" stop-color="#82362c"/><stop offset="0.292" stop-color="#8d3b2f"/><stop offset="0.333" stop-color="#983f31"/><stop offset="0.375" stop-color="#a04634"/><stop offset="0.417" stop-color="#a74e37"/><stop offset="0.458" stop-color="#ac543a"/><stop offset="0.500" stop-color="#af573b"/><stop offset="0.542" stop-color="#ac543a"/><stop offset="0.583" stop-color="#a74e37"/><stop offset="0.625" stop-color="#a04634"/><stop offset="0.667" stop-color="#983f31"/><stop offset="0.708" stop-color="#8d3b2f"/><stop offset="0.750" stop-color="#82362c"/><stop offset="0.792" stop-color="#763129"/><stop offset="0.833" stop-color="#692c25"/><stop offset="0.875" stop-color="#582722"/><stop offset="0.917" stop-color="#45231f"/><stop offset="0.958" stop-color="#32211e"/><stop offset="1.000" stop-color="#222222"/></linearGradient><linearGradient id="g36"><stop offset="0.000" stop-color="#222222"/><stop offset="0.042" stop-color="#753128"/><stop offset="0.083" stop-color="#b7603e"/><stop offset="0.125" stop-color="#e5ba5f"/><stop offset="0.167" stop-color="#f4e897"/><stop offset="0.208" stop-color="#fbf9df"/><stop offset="0.250" stop-color="#fdfdf7"/><stop offset="0.292" stop-color="#fdfdf7"/><stop offset="0.333" stop-color="#fdfdf7"/><stop offset="0.375" stop-color="#fdfdf7"/><stop offset="0.417" stop-color="#fdfdf7"/><stop offset="0.458" stop-color="#fdfdf7"/><stop offset="0.500" stop-color="#fdfdf7"/><stop offset="0.542" stop-color="#fdfdf7"/><stop offset="0.583" stop-color="#fdfdf7"/><stop offset="0.625" stop-color="#fdfdf7"/><stop offset="0.667" stop-color="#fdfdf7"/><stop offset="0.708" stop-color="#fdfdf7"/><stop offset="0.750" stop-color="#fdfdf7"/><stop offset="0.792" stop-color="#fbf9df"/><stop offset="0.833" stop-color="#f4e897"/><stop offset="0.875" stop-color="#e5ba5f"/><stop offset="0.917" stop-color="#b7603e"/><stop offset="0.958" stop-color="#753128"/><stop offset="1.000" stop-color="#222222"/></linearGradient><linearGradient id="g37"><stop offset="0.000" stop-color="#222222"/><stop offset="0.042" stop-color="#34201e"/><stop offset="0.083" stop-color="#492420"/><stop offset="0.125" stop-color="#5f2923"/><stop offset="0.167" stop-color="#702f27"/><stop offset="0.208" stop-color="#7e352b"/><stop offset="0.250" stop-color="#8c3a2e"/><stop offset="0.292" stop-color="#983f31"/><stop offset="0.333" stop-color="#a34935"/><stop offset="0.375" stop-color="#ac533a"/><stop offset="0.417" stop-color="#b35c3d"/><stop offset="0.458" stop-color="#b96340"/><stop offset="0.500" stop-color="#bc6641"/><stop offset="0.542" stop-color="#b96340"/><stop offset="0.583" stop-color="#b35c3d"/><stop offset="0.625" stop-color="#ac533a"/><stop offset="0.667" stop-color="#a34935"/><stop offset="0.708" stop-color="#983f31"/><stop offset="0.750" stop-color="#8c3a2e"/><stop offset="0.792" stop-color="#7e352b"/><stop offset="0.833" stop-color="#702f27"/><stop offset="0.875" stop-color="#5f2923"/><stop offset="0.917" stop-color="#492420"/><stop offset="0.958" stop-color="#34201e"/><stop offset="1.000" stop-color="#222222"/></linearGradient><linearGradient id="g38"><stop offset="0.000" stop-color="#222222"/><stop offset="0.042" stop-color="#43231f"/><stop offset="0.083" stop-color="#692c25"/><stop offset="0.125" stop-color="#84372c"/><stop offset="0.167" stop-color="#9e4433"/><stop offset="0.208" stop-color="#b55e3e"/><stop offset="0.250" stop-color="#c87948"/><stop offset="0.292" stop-color="#d89b53"/><stop offset="0.333" stop-color="#e3b55d"/><stop offset="0.375" stop-color="#eac966"/><stop offset="0.417" stop-color="#efd770"/><stop offset="0.458" stop-color="#f0dc7c"/><stop offset="0.500" stop-color="#f1df83"/><stop offset="0.542" stop-color="#f0dc7c"/><stop offset="0.583" stop-color="#efd770"/><stop offset="0.625" stop-color="#eac966"/><stop offset="0.667" stop-color="#e3b55d"/><stop offset="0.708" stop-color="#d89b53"/><stop offset="0.750" stop-color="#c87948"/><stop offset="0.792" stop-color="#b55e3e"/><stop offset="0.833" stop-color="#9e4433"/><stop offset="0.875" stop-color="#84372c"/><stop offset="0.917" stop-color="#692c25"/><stop offset="0.958" stop-color="#43231f"/><stop offset="1.000" stop-color="#222222"/></linearGradient><clipPath id="clipA"><rect x="122" y="40" width="657" height="518"/></clipPath><filter id="vblur" x="-5%%" y="-5%%" width="110%%" height="110%%"><feGaussianBlur stdDeviation="1.2 0.55"/></filter></defs>
<rect width="2500" height="1337" fill="#fff"/>
<g fill="#fefefc"><rect x="930.7" y="44.9" width="677.5" height="506.1"/><rect x="1785.5" y="46.8" width="686.2" height="267.7"/><rect x="1789" y="353.3" width="688.6" height="265.9"/><rect x="488.8" y="722" width="705.9" height="497.3"/><rect x="1393.7" y="713.3" width="674.3" height="505.5"/></g>
<rect x="122" y="40" width="657" height="518" fill="#222222"/>
<g clip-path="url(#clipA)"><g filter="url(#vblur)">
<rect x="228.6" y="68.00" width="92.9" height="2.00" fill="url(#g0)"/>
<rect x="240.2" y="105.00" width="101.5" height="2.00" fill="url(#g1)"/>
<rect x="231.5" y="128.50" width="121.0" height="4.00" fill="url(#g2)"/>
<rect x="233.8" y="156.00" width="112.3" height="2.00" fill="url(#g1)"/>
<rect x="209.6" y="167.00" width="150.4" height="2.00" fill="url(#g3)"/>
<rect x="216.4" y="169.00" width="144.4" height="3.00" fill="url(#g4)"/>
<rect x="202.1" y="172.00" width="177.8" height="2.00" fill="url(#g5)"/>
<rect x="210.9" y="174.00" width="158.3" height="3.00" fill="url(#g6)"/>
<rect x="196.6" y="177.00" width="183.5" height="3.00" fill="url(#g6)"/>
<rect x="205.7" y="180.00" width="158.6" height="1.00" fill="url(#g7)"/>
<rect x="207.6" y="181.00" width="159.7" height="2.00" fill="url(#g8)"/>
<rect x="207.5" y="183.00" width="165.2" height="2.00" fill="url(#g8)"/>
<rect x="201.2" y="185.00" width="178.6" height="1.00" fill="url(#g9)"/>
<rect x="197.0" y="186.00" width="185.1" height="1.00" fill="url(#g10)"/>
<rect x="194.9" y="187.00" width="186.2" height="1.00" fill="url(#g11)"/>
<rect x="200.7" y="188.00" width="176.1" height="1.00" fill="url(#g12)"/>
<rect x="202.4" y="189.00" width="175.7" height="3.00" fill="url(#g13)"/>
<rect x="195.8" y="192.00" width="187.5" height="1.00" fill="url(#g11)"/>
<rect x="205.7" y="193.00" width="165.4" height="1.00" fill="url(#g7)"/>
<rect x="195.6" y="194.00" width="181.7" height="2.00" fill="url(#g12)"/>
<rect x="196.3" y="196.00" width="183.4" height="3.00" fill="url(#g12)"/>
<rect x="197.7" y="199.00" width="186.4" height="3.00" fill="url(#g14)"/>
<rect x="192.1" y="202.00" width="191.6" height="3.00" fill="url(#g15)"/>
<rect x="190.8" y="205.00" width="189.3" height="2.00" fill="url(#g12)"/>
<rect x="199.8" y="207.00" width="184.6" height="1.00" fill="url(#g10)"/>
<rect x="202.1" y="208.00" width="166.0" height="2.00" fill="url(#g15)"/>
<rect x="194.9" y="210.00" width="197.1" height="2.00" fill="url(#g16)"/>
<rect x="190.3" y="212.00" width="181.1" height="3.00" fill="url(#g6)"/>
<rect x="199.3" y="215.00" width="177.6" height="2.00" fill="url(#g15)"/>
<rect x="201.3" y="217.00" width="182.7" height="1.00" fill="url(#g17)"/>
<rect x="204.4" y="218.00" width="167.6" height="2.00" fill="url(#g18)"/>
<rect x="206.6" y="220.00" width="163.9" height="3.00" fill="url(#g19)"/>
<rect x="195.1" y="223.00" width="183.7" height="3.00" fill="url(#g15)"/>
<rect x="201.0" y="226.00" width="175.9" height="1.00" fill="url(#g12)"/>
<rect x="199.4" y="227.00" width="181.3" height="2.00" fill="url(#g18)"/>
<rect x="200.4" y="229.00" width="167.7" height="2.00" fill="url(#g20)"/>
<rect x="208.0" y="231.00" width="160.9" height="2.00" fill="url(#g21)"/>
<rect x="212.8" y="233.00" width="151.5" height="2.00" fill="url(#g8)"/>
<rect x="207.4" y="235.00" width="162.6" height="2.00" fill="url(#g19)"/>
<rect x="203.3" y="237.00" width="168.2" height="3.00" fill="url(#g22)"/>
<rect x="205.2" y="240.00" width="161.0" height="1.00" fill="url(#g10)"/>
<rect x="213.7" y="241.00" width="144.5" height="1.00" fill="url(#g7)"/>
<rect x="214.3" y="242.00" width="150.5" height="1.00" fill="url(#g0)"/>
<rect x="244.7" y="246.50" width="88.6" height="2.00" fill="url(#g0)"/>
<rect x="207.4" y="268.00" width="151.4" height="2.00" fill="url(#g3)"/>
<rect x="211.6" y="270.00" width="150.0" height="2.00" fill="url(#g5)"/>
<rect x="206.9" y="272.00" width="169.3" height="2.00" fill="url(#g18)"/>
<rect x="212.6" y="274.00" width="149.9" height="2.00" fill="url(#g21)"/>
<rect x="200.2" y="276.00" width="177.1" height="2.00" fill="url(#g10)"/>
<rect x="192.6" y="278.00" width="185.4" height="2.00" fill="url(#g11)"/>
<rect x="188.9" y="280.00" width="186.8" height="3.00" fill="url(#g12)"/>
<rect x="198.4" y="283.00" width="174.6" height="2.00" fill="url(#g14)"/>
<rect x="193.1" y="285.00" width="186.7" height="2.00" fill="url(#g23)"/>
<rect x="194.5" y="287.00" width="190.8" height="1.00" fill="url(#g22)"/>
<rect x="201.7" y="288.00" width="175.4" height="2.00" fill="url(#g15)"/>
<rect x="187.6" y="290.00" width="198.1" height="3.00" fill="url(#g10)"/>
<rect x="197.7" y="293.00" width="172.9" height="1.00" fill="url(#g21)"/>
<rect x="193.2" y="294.00" width="186.4" height="2.00" fill="url(#g18)"/>
<rect x="191.4" y="296.00" width="186.5" height="2.00" fill="url(#g6)"/>
<rect x="193.6" y="298.00" width="188.6" height="2.00" fill="url(#g21)"/>
<rect x="186.1" y="300.00" width="199.4" height="3.00" fill="url(#g14)"/>
<rect x="193.5" y="303.00" width="177.2" height="2.00" fill="url(#g14)"/>
<rect x="201.1" y="305.00" width="177.3" height="3.00" fill="url(#g11)"/>
<rect x="196.7" y="308.00" width="180.6" height="3.00" fill="url(#g22)"/>
<rect x="201.6" y="311.00" width="167.7" height="3.00" fill="url(#g13)"/>
<rect x="200.2" y="314.00" width="173.8" height="2.00" fill="url(#g24)"/>
<rect x="204.8" y="316.00" width="162.1" height="2.00" fill="url(#g19)"/>
<rect x="217.6" y="349.50" width="119.9" height="3.00" fill="url(#g2)"/>
<rect x="245.0" y="363.00" width="79.9" height="2.00" fill="url(#g25)"/>
<rect x="217.9" y="373.00" width="111.2" height="2.00" fill="url(#g1)"/>
<rect x="231.9" y="383.50" width="110.2" height="3.00" fill="url(#g2)"/>
<rect x="234.4" y="411.00" width="97.2" height="2.00" fill="url(#g1)"/>
<rect x="249.4" y="445.00" width="71.3" height="2.00" fill="url(#g25)"/>
<rect x="249.2" y="459.00" width="75.6" height="2.00" fill="url(#g25)"/>
<rect x="231.8" y="470.00" width="112.3" height="6.00" fill="url(#g26)"/>
<rect x="515.0" y="40.00" width="190.0" height="3.00" fill="url(#g10)"/>
<rect x="509.2" y="43.00" width="212.6" height="1.00" fill="url(#g10)"/>
<rect x="530.6" y="44.00" width="181.3" height="3.00" fill="url(#g27)"/>
<rect x="532.5" y="47.00" width="164.9" height="1.00" fill="url(#g28)"/>
<rect x="518.9" y="48.00" width="190.5" height="2.00" fill="url(#g20)"/>
<rect x="522.8" y="50.00" width="184.1" height="1.00" fill="url(#g10)"/>
<rect x="532.8" y="51.00" width="166.3" height="2.00" fill="url(#g29)"/>
<rect x="522.5" y="53.00" width="187.2" height="2.00" fill="url(#g30)"/>
<rect x="518.3" y="55.00" width="189.6" height="2.00" fill="url(#g11)"/>
<rect x="528.6" y="57.00" width="174.0" height="2.00" fill="url(#g21)"/>
<rect x="527.1" y="59.00" width="175.6" height="2.00" fill="url(#g27)"/>
<rect x="527.5" y="61.00" width="176.2" height="2.00" fill="url(#g27)"/>
<rect x="526.5" y="63.00" width="179.6" height="3.00" fill="url(#g3)"/>
<rect x="524.2" y="66.00" width="186.4" height="2.00" fill="url(#g0)"/>
<rect x="540.7" y="68.00" width="159.3" height="2.00" fill="url(#g23)"/>
<rect x="523.3" y="70.00" width="191.1" height="2.00" fill="url(#g6)"/>
<rect x="526.6" y="72.00" width="180.6" height="2.00" fill="url(#g21)"/>
<rect x="521.8" y="74.00" width="190.1" height="2.00" fill="url(#g12)"/>
<rect x="523.5" y="76.00" width="181.6" height="2.00" fill="url(#g13)"/>
<rect x="522.8" y="78.00" width="192.3" height="2.00" fill="url(#g12)"/>
<rect x="523.7" y="80.00" width="184.7" height="2.00" fill="url(#g16)"/>
<rect x="524.7" y="82.00" width="186.9" height="3.00" fill="url(#g18)"/>
<rect x="527.2" y="85.00" width="185.9" height="3.00" fill="url(#g21)"/>
<rect x="520.1" y="88.00" width="181.8" height="3.00" fill="url(#g20)"/>
<rect x="520.6" y="91.00" width="189.8" height="2.00" fill="url(#g9)"/>
<rect x="529.2" y="93.00" width="184.2" height="2.00" fill="url(#g20)"/>
<rect x="517.2" y="95.00" width="195.8" height="2.00" fill="url(#g18)"/>
<rect x="524.9" y="97.00" width="182.2" height="3.00" fill="url(#g12)"/>
<rect x="520.2" y="100.00" width="187.5" height="2.00" fill="url(#g21)"/>
<rect x="533.3" y="102.00" width="166.3" height="3.00" fill="url(#g14)"/>
<rect x="516.6" y="105.00" width="201.4" height="2.00" fill="url(#g14)"/>
<rect x="524.4" y="107.00" width="187.2" height="3.00" fill="url(#g21)"/>
<rect x="531.1" y="110.00" width="179.5" height="2.00" fill="url(#g10)"/>
<rect x="535.3" y="112.00" width="164.7" height="3.00" fill="url(#g23)"/>
<rect x="529.0" y="115.00" width="178.2" height="2.00" fill="url(#g18)"/>
<rect x="521.6" y="117.00" width="186.6" height="2.00" fill="url(#g13)"/>
<rect x="516.6" y="119.00" width="195.9" height="2.00" fill="url(#g9)"/>
<rect x="518.0" y="121.00" width="188.1" height="1.00" fill="url(#g5)"/>
<rect x="526.3" y="122.00" width="187.8" height="3.00" fill="url(#g27)"/>
<rect x="515.0" y="125.00" width="197.7" height="2.00" fill="url(#g31)"/>
<rect x="512.7" y="127.00" width="200.2" height="2.00" fill="url(#g31)"/>
<rect x="525.7" y="129.00" width="185.2" height="3.00" fill="url(#g14)"/>
<rect x="526.4" y="132.00" width="180.4" height="2.00" fill="url(#g23)"/>
<rect x="522.2" y="134.00" width="190.1" height="2.00" fill="url(#g29)"/>
<rect x="529.6" y="136.00" width="175.8" height="3.00" fill="url(#g6)"/>
<rect x="527.5" y="139.00" width="170.8" height="1.00" fill="url(#g18)"/>
<rect x="523.9" y="140.00" width="180.6" height="2.00" fill="url(#g13)"/>
<rect x="526.1" y="142.00" width="180.1" height="2.00" fill="url(#g11)"/>
<rect x="531.1" y="144.00" width="168.5" height="2.00" fill="url(#g6)"/>
<rect x="528.5" y="146.00" width="167.7" height="3.00" fill="url(#g21)"/>
<rect x="520.5" y="149.00" width="190.4" height="1.00" fill="url(#g21)"/>
<rect x="519.4" y="150.00" width="188.2" height="2.00" fill="url(#g18)"/>
<rect x="534.3" y="152.00" width="167.9" height="3.00" fill="url(#g23)"/>
<rect x="531.5" y="155.00" width="170.4" height="3.00" fill="url(#g14)"/>
<rect x="519.1" y="158.00" width="196.4" height="2.00" fill="url(#g22)"/>
<rect x="524.6" y="160.00" width="177.9" height="3.00" fill="url(#g23)"/>
<rect x="525.8" y="163.00" width="180.5" height="2.00" fill="url(#g24)"/>
<rect x="524.5" y="165.00" width="183.2" height="2.00" fill="url(#g3)"/>
<rect x="568.3" y="199.00" width="100.4" height="3.00" fill="url(#g2)"/>
<rect x="533.3" y="242.00" width="160.6" height="3.00" fill="url(#g8)"/>
<rect x="531.1" y="245.00" width="162.2" height="2.00" fill="url(#g21)"/>
<rect x="525.5" y="247.00" width="182.6" height="2.00" fill="url(#g16)"/>
<rect x="528.2" y="249.00" width="180.5" height="2.00" fill="url(#g19)"/>
<rect x="519.5" y="251.00" width="187.1" height="2.00" fill="url(#g9)"/>
<rect x="516.5" y="253.00" width="204.3" height="2.00" fill="url(#g15)"/>
<rect x="526.7" y="255.00" width="184.7" height="3.00" fill="url(#g21)"/>
<rect x="524.8" y="258.00" width="183.7" height="3.00" fill="url(#g15)"/>
<rect x="525.2" y="261.00" width="187.1" height="2.00" fill="url(#g11)"/>
<rect x="535.2" y="263.00" width="162.4" height="3.00" fill="url(#g12)"/>
<rect x="523.5" y="266.00" width="168.8" height="1.00" fill="url(#g6)"/>
<rect x="540.9" y="267.00" width="152.1" height="2.00" fill="url(#g17)"/>
<rect x="540.2" y="269.00" width="157.6" height="1.00" fill="url(#g32)"/>
<rect x="541.4" y="283.00" width="125.3" height="2.00" fill="url(#g1)"/>
<rect x="547.2" y="301.00" width="129.6" height="2.00" fill="url(#g1)"/>
<rect x="514.1" y="319.00" width="195.0" height="1.00" fill="url(#g32)"/>
<rect x="518.5" y="320.00" width="189.6" height="2.00" fill="url(#g33)"/>
<rect x="530.1" y="322.00" width="181.6" height="3.00" fill="url(#g31)"/>
<rect x="516.7" y="325.00" width="205.7" height="2.00" fill="url(#g9)"/>
<rect x="529.5" y="327.00" width="168.4" height="1.00" fill="url(#g11)"/>
<rect x="519.8" y="328.00" width="194.3" height="2.00" fill="url(#g10)"/>
<rect x="531.9" y="330.00" width="168.6" height="3.00" fill="url(#g21)"/>
<rect x="531.4" y="333.00" width="176.7" height="2.00" fill="url(#g10)"/>
<rect x="530.4" y="335.00" width="174.1" height="2.00" fill="url(#g20)"/>
<rect x="517.7" y="337.00" width="191.7" height="3.00" fill="url(#g20)"/>
<rect x="518.9" y="340.00" width="187.0" height="2.00" fill="url(#g12)"/>
<rect x="527.5" y="342.00" width="181.5" height="1.00" fill="url(#g6)"/>
<rect x="527.5" y="343.00" width="181.4" height="2.00" fill="url(#g16)"/>
<rect x="521.7" y="345.00" width="197.7" height="2.00" fill="url(#g21)"/>
<rect x="518.8" y="347.00" width="195.6" height="2.00" fill="url(#g21)"/>
<rect x="519.5" y="349.00" width="190.9" height="2.00" fill="url(#g14)"/>
<rect x="525.5" y="351.00" width="185.0" height="3.00" fill="url(#g14)"/>
<rect x="519.2" y="354.00" width="201.4" height="1.00" fill="url(#g24)"/>
<rect x="533.9" y="355.00" width="165.1" height="3.00" fill="url(#g12)"/>
<rect x="535.5" y="358.00" width="174.4" height="2.00" fill="url(#g11)"/>
<rect x="519.1" y="360.00" width="191.7" height="3.00" fill="url(#g7)"/>
<rect x="513.0" y="363.00" width="198.2" height="3.00" fill="url(#g15)"/>
<rect x="504.9" y="366.00" width="212.4" height="1.00" fill="url(#g21)"/>
<rect x="518.1" y="367.00" width="196.1" height="3.00" fill="url(#g24)"/>
<rect x="520.0" y="370.00" width="199.2" height="2.00" fill="url(#g15)"/>
<rect x="526.0" y="372.00" width="182.3" height="3.00" fill="url(#g25)"/>
<rect x="523.3" y="375.00" width="188.6" height="1.00" fill="url(#g25)"/>
<rect x="514.4" y="376.00" width="203.9" height="2.00" fill="url(#g15)"/>
<rect x="528.4" y="378.00" width="181.3" height="1.00" fill="url(#g23)"/>
<rect x="521.8" y="379.00" width="192.2" height="3.00" fill="url(#g11)"/>
<rect x="511.4" y="382.00" width="206.0" height="2.00" fill="url(#g26)"/>
<rect x="506.4" y="384.00" width="210.5" height="3.00" fill="url(#g10)"/>
<rect x="514.1" y="387.00" width="210.4" height="2.00" fill="url(#g18)"/>
<rect x="515.7" y="389.00" width="194.9" height="2.00" fill="url(#g24)"/>
<rect x="518.8" y="391.00" width="192.3" height="3.00" fill="url(#g21)"/>
<rect x="513.2" y="394.00" width="201.9" height="2.00" fill="url(#g15)"/>
<rect x="519.9" y="396.00" width="195.2" height="2.00" fill="url(#g11)"/>
<rect x="517.6" y="398.00" width="193.8" height="2.00" fill="url(#g7)"/>
<rect x="523.0" y="400.00" width="185.2" height="3.00" fill="url(#g22)"/>
<rect x="509.5" y="403.00" width="203.8" height="2.00" fill="url(#g17)"/>
<rect x="530.9" y="405.00" width="167.9" height="1.00" fill="url(#g23)"/>
<rect x="526.8" y="406.00" width="172.3" height="3.00" fill="url(#g34)"/>
<rect x="521.3" y="409.00" width="197.9" height="2.00" fill="url(#g34)"/>
<rect x="523.1" y="411.00" width="185.2" height="2.00" fill="url(#g5)"/>
<rect x="535.1" y="413.00" width="154.7" height="2.00" fill="url(#g23)"/>
<rect x="519.8" y="415.00" width="189.8" height="3.00" fill="url(#g11)"/>
<rect x="517.9" y="418.00" width="193.2" height="2.00" fill="url(#g18)"/>
<rect x="519.0" y="420.00" width="189.8" height="2.00" fill="url(#g24)"/>
<rect x="508.6" y="422.00" width="205.7" height="3.00" fill="url(#g7)"/>
<rect x="524.2" y="425.00" width="189.2" height="3.00" fill="url(#g5)"/>
<rect x="516.0" y="428.00" width="192.4" height="3.00" fill="url(#g35)"/>
<rect x="517.9" y="431.00" width="190.8" height="1.00" fill="url(#g13)"/>
<rect x="530.2" y="432.00" width="181.4" height="2.00" fill="url(#g6)"/>
<rect x="517.6" y="434.00" width="203.0" height="1.00" fill="url(#g7)"/>
<rect x="512.6" y="435.00" width="200.0" height="2.00" fill="url(#g5)"/>
<rect x="531.1" y="437.00" width="173.9" height="1.00" fill="url(#g28)"/>
<rect x="528.0" y="438.00" width="175.4" height="2.00" fill="url(#g15)"/>
<rect x="525.6" y="440.00" width="186.2" height="2.00" fill="url(#g21)"/>
<rect x="529.0" y="442.00" width="183.6" height="1.00" fill="url(#g11)"/>
<rect x="515.2" y="443.00" width="202.3" height="2.00" fill="url(#g18)"/>
<rect x="522.9" y="445.00" width="184.7" height="2.00" fill="url(#g34)"/>
<rect x="521.5" y="447.00" width="186.8" height="2.00" fill="url(#g21)"/>
<rect x="526.9" y="449.00" width="183.8" height="3.00" fill="url(#g15)"/>
<rect x="496.8" y="452.00" width="229.7" height="2.00" fill="url(#g9)"/>
<rect x="511.0" y="454.00" width="207.2" height="3.00" fill="url(#g21)"/>
<rect x="525.9" y="457.00" width="183.0" height="2.00" fill="url(#g33)"/>
<rect x="523.2" y="459.00" width="186.2" height="1.00" fill="url(#g26)"/>
<rect x="526.1" y="460.00" width="177.8" height="3.00" fill="url(#g7)"/>
<rect x="513.9" y="463.00" width="191.3" height="3.00" fill="url(#g15)"/>
<rect x="529.2" y="466.00" width="186.1" height="2.00" fill="url(#g17)"/>
<rect x="519.6" y="468.00" width="199.8" height="2.00" fill="url(#g11)"/>
<rect x="510.5" y="470.00" width="197.4" height="1.00" fill="url(#g25)"/>
<rect x="507.5" y="471.00" width="206.4" height="3.00" fill="url(#g25)"/>
<rect x="516.4" y="474.00" width="199.6" height="3.00" fill="url(#g9)"/>
<rect x="517.8" y="477.00" width="200.6" height="2.00" fill="url(#g24)"/>
<rect x="523.6" y="479.00" width="182.5" height="2.00" fill="url(#g6)"/>
<rect x="515.7" y="481.00" width="194.7" height="3.00" fill="url(#g21)"/>
<rect x="529.1" y="484.00" width="178.3" height="2.00" fill="url(#g9)"/>
<rect x="528.6" y="486.00" width="187.2" height="3.00" fill="url(#g15)"/>
<rect x="526.9" y="489.00" width="181.6" height="2.00" fill="url(#g35)"/>
<rect x="526.6" y="491.00" width="185.2" height="3.00" fill="url(#g12)"/>
<rect x="512.9" y="494.00" width="209.4" height="2.00" fill="url(#g29)"/>
<rect x="517.4" y="496.00" width="192.0" height="2.00" fill="url(#g31)"/>
<rect x="515.8" y="498.00" width="196.7" height="3.00" fill="url(#g29)"/>
<rect x="514.1" y="501.00" width="211.8" height="2.00" fill="url(#g36)"/>
<rect x="521.0" y="503.00" width="192.3" height="3.00" fill="url(#g9)"/>
<rect x="513.7" y="506.00" width="199.9" height="3.00" fill="url(#g0)"/>
<rect x="528.8" y="509.00" width="169.1" height="2.00" fill="url(#g6)"/>
<rect x="524.2" y="511.00" width="180.6" height="1.00" fill="url(#g5)"/>
<rect x="522.0" y="512.00" width="190.0" height="2.00" fill="url(#g6)"/>
<rect x="527.9" y="514.00" width="182.4" height="2.00" fill="url(#g27)"/>
<rect x="524.5" y="516.00" width="187.9" height="1.00" fill="url(#g9)"/>
<rect x="524.3" y="517.00" width="184.1" height="2.00" fill="url(#g36)"/>
<rect x="516.4" y="519.00" width="201.2" height="2.00" fill="url(#g27)"/>
<rect x="518.8" y="521.00" width="187.1" height="2.00" fill="url(#g37)"/>
<rect x="518.1" y="523.00" width="194.5" height="3.00" fill="url(#g16)"/>
<rect x="515.0" y="526.00" width="200.7" height="1.00" fill="url(#g9)"/>
<rect x="513.1" y="527.00" width="203.4" height="2.00" fill="url(#g5)"/>
<rect x="516.9" y="529.00" width="204.6" height="1.00" fill="url(#g10)"/>
<rect x="520.7" y="530.00" width="181.4" height="2.00" fill="url(#g10)"/>
<rect x="517.3" y="532.00" width="202.1" height="2.00" fill="url(#g20)"/>
<rect x="521.2" y="534.00" width="192.7" height="2.00" fill="url(#g29)"/>
<rect x="528.0" y="536.00" width="178.6" height="3.00" fill="url(#g12)"/>
<rect x="525.3" y="539.00" width="180.0" height="3.00" fill="url(#g13)"/>
<rect x="517.7" y="542.00" width="192.0" height="3.00" fill="url(#g23)"/>
<rect x="518.2" y="545.00" width="206.1" height="2.00" fill="url(#g23)"/>
<rect x="534.6" y="547.00" width="171.9" height="3.00" fill="url(#g21)"/>
<rect x="514.5" y="550.00" width="200.2" height="2.00" fill="url(#g38)"/>
<rect x="531.1" y="552.00" width="169.5" height="2.00" fill="url(#g20)"/>
<rect x="526.9" y="554.00" width="176.5" height="3.00" fill="url(#g36)"/>
<rect x="520.4" y="557.00" width="184.5" height="1.00" fill="url(#g12)"/>
</g></g>
<rect x="122" y="38" width="657" height="2" fill="#c8c8c8"/>
<rect x="120" y="40" width="1.5" height="520" fill="#9a9a9a"/>
<text transform="translate(32.00 33.10) scale(1.0000 1.0000)" x="0" y="0" style="font-family:'Liberation Sans', Arial, Helvetica, sans-serif;font-weight:bold;font-size:43.0px" fill="#000">A</text>
<text transform="translate(88.78 60.33) scale(1.0000 1.0000)" x="0" y="0" style="font-family:'Liberation Sans', Arial, Helvetica, sans-serif;font-size:44.0px" fill="#111">8</text>
<text transform="translate(88.57 186.98) scale(1.0000 1.0000)" x="0" y="0" style="font-family:'Liberation Sans', Arial, Helvetica, sans-serif;font-size:44.0px" fill="#111">6</text>
<text transform="translate(90.41 325.78) scale(1.0000 1.0000)" x="0" y="0" style="font-family:'Liberation Sans', Arial, Helvetica, sans-serif;font-size:44.0px" fill="#111">4</text>
<text transform="translate(90.09 451.40) scale(1.0000 1.0000)" x="0" y="0" style="font-family:'Liberation Sans', Arial, Helvetica, sans-serif;font-size:44.0px" fill="#111">2</text>
<text transform="translate(89.53 570.18) scale(1.0000 1.0000)" x="0" y="0" style="font-family:'Liberation Sans', Arial, Helvetica, sans-serif;font-size:44.0px" fill="#111">0</text>
<text transform="translate(91.20 595.16) scale(1.0000 1.0000)" x="0" y="0" style="font-family:'Liberation Sans', Arial, Helvetica, sans-serif;font-size:44.0px" fill="#111">-1.5</text>
<text transform="translate(197.72 595.18) scale(1.0000 1.0000)" x="0" y="0" style="font-family:'Liberation Sans', Arial, Helvetica, sans-serif;font-size:44.0px" fill="#111">-1</text>
<text transform="translate(306.25 594.43) scale(1.0000 1.0000)" x="0" y="0" style="font-family:'Liberation Sans', Arial, Helvetica, sans-serif;font-size:44.0px" fill="#111">-0.5</text>
<text transform="translate(437.93 594.93) scale(1.0000 1.0000)" x="0" y="0" style="font-family:'Liberation Sans', Arial, Helvetica, sans-serif;font-size:44.0px" fill="#111">0</text>
<text transform="translate(509.27 594.93) scale(1.0000 1.0000)" x="0" y="0" style="font-family:'Liberation Sans', Arial, Helvetica, sans-serif;font-size:44.0px" fill="#111">0.5</text>
<text transform="translate(652.68 595.03) scale(1.0000 1.0000)" x="0" y="0" style="font-family:'Liberation Sans', Arial, Helvetica, sans-serif;font-size:44.0px" fill="#111">1</text>
<text transform="translate(733.80 598.31) scale(1.0000 1.0000)" x="0" y="0" style="font-family:'Liberation Sans', Arial, Helvetica, sans-serif;font-size:44.0px" fill="#111">1.5</text>
<text transform="translate(425.77 635.80) scale(1.1500 1.0000)" x="0" y="0" style="font-family:'Liberation Serif', 'Times New Roman', serif;font-style:italic;font-size:80.4px" fill="#222">x</text>
<text transform="translate(63.70 461.18) rotate(-90) scale(1.0000 1.0000)" x="0" y="0" style="font-family:'Liberation Serif', 'Times New Roman', serif;font-style:italic;font-size:77.3px" fill="#222">t (seconds)</text>
<line x1="930.7" y1="44.9" x2="930.7" y2="551.0" stroke="#a4a4a4" stroke-width="2"/>
<line x1="930.7" y1="551.0" x2="1608.2" y2="551.0" stroke="#c8c8c8" stroke-width="3.5"/>
<line x1="930.7" y1="449.8" x2="937.7" y2="449.8" stroke="#9a9a9a" stroke-width="1.2"/>
<line x1="930.7" y1="348.6" x2="937.7" y2="348.6" stroke="#9a9a9a" stroke-width="1.2"/>
<line x1="930.7" y1="247.3" x2="937.7" y2="247.3" stroke="#9a9a9a" stroke-width="1.2"/>
<line x1="930.7" y1="146.1" x2="937.7" y2="146.1" stroke="#9a9a9a" stroke-width="1.2"/>
<line x1="930.7" y1="44.9" x2="937.7" y2="44.9" stroke="#9a9a9a" stroke-width="1.2"/>
<line x1="1100.1" y1="551.0" x2="1100.1" y2="545.0" stroke="#9a9a9a" stroke-width="1.2"/>
<line x1="1269.5" y1="551.0" x2="1269.5" y2="545.0" stroke="#9a9a9a" stroke-width="1.2"/>
<line x1="1438.8" y1="551.0" x2="1438.8" y2="545.0" stroke="#9a9a9a" stroke-width="1.2"/>
<line x1="1608.2" y1="551.0" x2="1608.2" y2="545.0" stroke="#9a9a9a" stroke-width="1.2"/>
<line x1="930.7" y1="199.4" x2="1608.2" y2="199.4" stroke="#9698ad" stroke-width="1.6"/>
<line x1="930.7" y1="297.6" x2="1608.2" y2="297.6" stroke="#d4d4d4" stroke-width="3.6"/>
<polyline points="930.8,549.3 931.5,296.5 933.5,296.5 935.0,424.3 936.5,424.3 940.0,262.0 941.5,262.0 943.0,299.0 944.5,299.0 946.0,245.0 947.5,245.0 951.0,318.0 964.0,212.7 969.7,254.2 972.6,238.9 975.4,251.5 977.5,238.7 979.7,229.6 981.4,234.7 983.1,243.6 984.8,249.5 986.5,256.8 988.2,262.0 990.2,256.1 992.2,249.1 994.1,242.3 996.1,236.3 998.1,228.8 1000.0,236.6 1001.9,244.4 1003.8,251.0 1005.6,245.7 1007.3,242.6 1009.1,236.1 1010.9,230.7 1012.7,230.9 1014.5,230.0 1016.2,229.8 1018.0,229.5 1020.0,232.3 1022.0,232.0 1024.0,233.2 1026.0,234.7 1028.0,236.8 1029.9,235.2 1031.7,235.0 1033.6,237.1 1035.5,238.6 1037.4,243.7 1039.3,248.7 1041.2,250.7 1043.1,249.4 1045.0,249.3 1046.9,249.1 1048.8,245.9 1050.7,243.6 1052.4,246.8 1054.1,249.2 1055.8,251.8 1057.5,253.8 1059.2,257.6 1061.1,255.4 1063.0,252.0 1064.9,249.3 1066.8,247.7 1068.7,245.2 1070.6,241.8 1072.4,244.3 1074.2,247.5 1075.9,248.8 1077.7,250.8 1079.7,249.4 1081.7,247.6 1083.6,245.9 1085.6,242.8 1087.6,243.7 1089.6,243.2 1091.6,243.0 1093.6,244.9 1095.6,245.0 1097.6,245.3 1099.8,250.1 1102.0,255.0 1104.2,257.9 1106.0,259.0 1107.8,259.8 1109.6,257.9 1111.4,258.6 1114.0,263.7 1116.1,258.9 1118.2,256.8 1120.0,258.4 1121.7,258.8 1123.5,259.0 1125.2,257.8 1127.0,261.2 1129.6,263.6 1131.3,261.7 1133.0,259.4 1134.7,255.7 1136.5,253.9 1138.2,251.9 1139.9,252.0 1141.6,248.0 1143.7,247.9 1145.8,247.4 1147.9,247.5 1150.0,247.0 1152.1,248.5 1154.1,249.2 1156.2,249.6 1158.3,253.6 1160.3,255.5 1162.4,257.9 1164.5,255.9 1166.6,254.5 1168.4,253.6 1170.2,250.7 1172.0,249.5 1173.8,247.9 1175.7,247.3 1177.5,247.0 1179.3,244.5 1181.1,243.2 1182.8,242.7 1184.6,242.9 1186.3,242.6 1188.1,240.8 1189.9,237.3 1191.8,236.2 1193.6,234.2 1195.5,236.0 1197.5,236.2 1199.4,236.8 1201.3,237.4 1203.2,236.4 1205.2,237.6 1207.1,238.6 1208.8,235.8 1210.6,235.2 1212.3,232.9 1214.1,231.2 1215.9,231.8 1217.8,230.5 1219.6,230.5 1221.4,230.7 1223.2,231.9 1225.1,230.9 1226.9,234.5 1228.7,232.5 1230.6,229.9 1232.4,228.1 1234.2,227.3 1236.2,229.6 1238.3,231.3 1240.2,230.0 1242.1,227.1 1243.9,226.4 1245.8,226.9 1247.7,224.9 1249.8,225.7 1251.8,228.3 1253.9,226.6 1256.0,225.6 1258.1,225.8 1260.2,223.5 1261.9,224.3 1263.7,223.5 1265.4,222.1 1267.1,222.5 1268.9,224.4 1270.6,222.1 1272.5,221.4 1274.4,222.6 1276.3,221.4 1278.2,220.9 1280.1,221.5 1282.0,218.7 1284.1,221.6 1286.2,221.8 1288.3,220.6 1290.3,220.0 1292.4,220.3 1294.5,218.4 1296.3,216.8 1298.2,216.9 1300.0,218.4 1301.8,217.6 1303.9,217.2 1305.9,220.7 1308.0,219.7 1309.7,219.0 1311.5,219.6 1313.2,220.2 1314.9,220.5 1316.7,219.9 1318.4,218.7 1320.1,218.9 1321.9,218.7 1323.6,220.0 1325.3,220.0 1327.1,220.9 1328.8,220.2 1330.7,221.2 1332.7,221.4 1334.6,221.6 1336.5,222.0 1338.4,222.6 1340.4,222.9 1342.3,224.6 1344.2,224.5 1346.2,223.8 1348.1,225.3 1350.0,225.4 1351.8,226.1 1353.6,224.8 1355.4,224.6 1357.1,224.1 1358.9,224.6 1360.7,224.7 1362.5,224.3 1364.6,225.1 1366.6,226.7 1368.7,227.4 1370.5,227.0 1372.3,225.7 1374.1,226.1 1375.8,224.8 1377.6,224.5 1379.4,224.8 1381.2,225.7 1383.0,224.6 1384.9,223.5 1386.7,223.0 1388.6,223.5 1390.4,223.5 1392.3,223.0 1394.1,221.7 1396.0,221.6 1397.8,220.9 1399.9,221.4 1402.0,221.5 1404.1,222.4 1405.9,221.5 1407.7,222.7 1409.5,224.3 1411.2,223.8 1413.0,225.3 1414.8,224.4 1416.6,225.5 1418.3,225.4 1420.0,223.7 1421.7,223.3 1423.4,224.9 1425.1,222.0 1426.8,221.3 1428.5,220.7 1430.2,220.5 1431.9,219.8 1433.6,219.9 1435.3,219.1 1437.0,218.1 1438.7,218.0 1440.4,217.2 1442.1,217.0 1443.8,217.5 1445.5,218.4 1447.2,217.9 1448.9,218.3 1450.6,218.3 1452.3,217.4 1454.0,218.9 1455.7,216.8 1457.5,216.5 1459.2,216.4 1460.9,217.3 1462.7,216.2 1464.4,215.5 1466.1,216.2 1467.9,216.4 1469.6,215.3 1471.4,215.4 1473.1,216.5 1474.9,216.6 1476.7,216.7 1478.4,215.6 1480.2,216.5 1482.0,216.7 1483.8,215.3 1485.5,217.6 1487.3,217.0 1489.2,216.1 1491.2,217.5 1493.1,215.5 1495.0,214.3 1496.9,214.3 1498.9,214.2 1500.8,213.9 1502.5,213.0 1504.3,212.2 1506.0,212.1 1507.7,211.8 1509.5,211.4 1511.2,211.9 1512.9,211.3 1514.7,211.5 1516.4,210.6 1518.1,210.1 1519.9,210.1 1521.6,209.5 1523.3,210.1 1525.1,208.1 1526.8,208.4 1528.5,207.8 1530.3,206.4 1532.0,207.3 1533.7,206.5 1535.5,204.3 1537.2,205.8 1538.9,205.5 1540.7,203.8 1542.4,205.1 1544.5,204.0 1546.6,203.1 1548.6,204.3 1550.7,203.6 1552.4,203.8 1554.2,204.1 1555.9,206.7 1557.7,205.9 1559.4,206.8 1561.2,206.5 1562.9,205.8 1564.7,205.7 1566.5,207.3 1568.2,207.2 1570.0,206.4 1571.8,205.6 1573.5,205.0 1575.3,205.4 1577.0,206.8 1578.8,205.8 1580.6,205.8 1582.4,205.7 1584.3,207.2 1586.1,207.0 1588.2,207.0 1590.2,206.8 1592.3,206.4 1594.4,205.1 1596.3,204.4 1598.3,204.4 1600.2,205.2 1602.1,203.8 1604.0,202.1 1606.0,203.9 1607.9,202.4" fill="none" stroke="#262626" stroke-width="3.8" stroke-linejoin="round"/>
<text transform="translate(816.66 32.90) scale(1.0000 1.0000)" x="0" y="0" style="font-family:'Liberation Sans', Arial, Helvetica, sans-serif;font-weight:bold;font-size:41.6px" fill="#000">B</text>
<text transform="translate(890.93 60.63) scale(1.0000 1.0000)" x="0" y="0" style="font-family:'Liberation Sans', Arial, Helvetica, sans-serif;font-size:44.0px" fill="#111">1</text>
<text transform="translate(865.82 157.68) scale(1.0000 1.0000)" x="0" y="0" style="font-family:'Liberation Sans', Arial, Helvetica, sans-serif;font-size:44.0px" fill="#111">0.8</text>
<text transform="translate(865.42 264.38) scale(1.0000 1.0000)" x="0" y="0" style="font-family:'Liberation Sans', Arial, Helvetica, sans-serif;font-size:44.0px" fill="#111">0.6</text>
<text transform="translate(865.70 383.13) scale(1.0000 1.0000)" x="0" y="0" style="font-family:'Liberation Sans', Arial, Helvetica, sans-serif;font-size:44.0px" fill="#111">0.4</text>
<text transform="translate(866.04 466.68) scale(1.0000 1.0000)" x="0" y="0" style="font-family:'Liberation Sans', Arial, Helvetica, sans-serif;font-size:44.0px" fill="#111">0.2</text>
<text transform="translate(897.33 560.03) scale(1.0000 1.0000)" x="0" y="0" style="font-family:'Liberation Sans', Arial, Helvetica, sans-serif;font-size:44.0px" fill="#111">0</text>
<text transform="translate(917.73 584.98) scale(1.0000 1.0000)" x="0" y="0" style="font-family:'Liberation Sans', Arial, Helvetica, sans-serif;font-size:44.0px" fill="#111">0</text>
<text transform="translate(1055.59 589.88) scale(1.0000 1.0000)" x="0" y="0" style="font-family:'Liberation Sans', Arial, Helvetica, sans-serif;font-size:44.0px" fill="#111">100</text>
<text transform="translate(1235.79 587.68) scale(1.0000 1.0000)" x="0" y="0" style="font-family:'Liberation Sans', Arial, Helvetica, sans-serif;font-size:44.0px" fill="#111">200</text>
<text transform="translate(1398.41 587.28) scale(1.0000 1.0000)" x="0" y="0" style="font-family:'Liberation Sans', Arial, Helvetica, sans-serif;font-size:44.0px" fill="#111">300</text>
<text transform="translate(1566.90 585.98) scale(1.0000 1.0000)" x="0" y="0" style="font-family:'Liberation Sans', Arial, Helvetica, sans-serif;font-size:44.0px" fill="#111">400</text>
<text transform="translate(1240.27 642.20) scale(1.2500 1.0000)" x="0" y="0" style="font-family:'Liberation Serif', 'Times New Roman', serif;font-style:italic;font-size:101.3px" fill="#151515" stroke="#151515" stroke-width="0.8">n</text>
<rect x="1785.5" y="46.8" width="686.2" height="267.7" fill="none" stroke="#d0d0d0" stroke-width="2.2"/>
<rect x="1786.9" y="46.8" width="15.1" height="267.7" fill="#2f355f" stroke="#23284a" stroke-width="0.8"/>
<rect x="1802.0" y="46.8" width="15.7" height="267.7" fill="#2f355f" stroke="#23284a" stroke-width="0.8"/>
<rect x="1817.7" y="80.9" width="15.1" height="233.6" fill="#2f355f" stroke="#23284a" stroke-width="0.8"/>
<rect x="1832.8" y="121.3" width="16.3" height="193.2" fill="#2f355f" stroke="#23284a" stroke-width="0.8"/>
<rect x="1849.1" y="153.8" width="16.4" height="160.7" fill="#2f355f" stroke="#23284a" stroke-width="0.8"/>
<rect x="1865.5" y="182.5" width="16.1" height="132.0" fill="#2f355f" stroke="#23284a" stroke-width="0.8"/>
<rect x="1881.6" y="212.8" width="14.7" height="101.7" fill="#2f355f" stroke="#23284a" stroke-width="0.8"/>
<rect x="1896.3" y="239.0" width="15.7" height="75.5" fill="#2f355f" stroke="#23284a" stroke-width="0.8"/>
<rect x="1912.0" y="255.2" width="16.3" height="59.3" fill="#2f355f" stroke="#23284a" stroke-width="0.8"/>
<rect x="1928.3" y="262.1" width="15.5" height="52.4" fill="#2f355f" stroke="#23284a" stroke-width="0.8"/>
<rect x="1943.8" y="261.5" width="15.3" height="53.0" fill="#2f355f" stroke="#23284a" stroke-width="0.8"/>
<rect x="1959.1" y="285.6" width="15.7" height="28.9" fill="#2f355f" stroke="#23284a" stroke-width="0.8"/>
<rect x="1974.8" y="281.6" width="15.8" height="32.9" fill="#2f355f" stroke="#23284a" stroke-width="0.8"/>
<rect x="1990.6" y="292.8" width="16.2" height="21.7" fill="#2f355f" stroke="#23284a" stroke-width="0.8"/>
<rect x="2006.8" y="299.0" width="16.3" height="15.5" fill="#2f355f" stroke="#23284a" stroke-width="0.8"/>
<rect x="2023.1" y="300.7" width="14.6" height="13.8" fill="#2f355f" stroke="#23284a" stroke-width="0.8"/>
<rect x="2037.7" y="300.7" width="16.7" height="13.8" fill="#2f355f" stroke="#23284a" stroke-width="0.8"/>
<rect x="2054.4" y="306.9" width="15.8" height="7.6" fill="#2f355f" stroke="#23284a" stroke-width="0.8"/>
<rect x="2070.2" y="305.6" width="15.0" height="8.9" fill="#2f355f" stroke="#23284a" stroke-width="0.8"/>
<rect x="2085.2" y="310.4" width="16.7" height="4.1" fill="#2f355f" stroke="#23284a" stroke-width="0.8"/>
<rect x="2101.9" y="309.5" width="15.4" height="5.0" fill="#2f355f" stroke="#23284a" stroke-width="0.8"/>
<rect x="2117.3" y="312.4" width="14.5" height="2.1" fill="#2f355f" stroke="#23284a" stroke-width="0.8"/>
<rect x="2131.8" y="309.1" width="15.9" height="5.4" fill="#2f355f" stroke="#23284a" stroke-width="0.8"/>
<rect x="2147.7" y="311.7" width="16.3" height="2.8" fill="#2f355f" stroke="#23284a" stroke-width="0.8"/>
<line x1="1785.5" y1="46.8" x2="1785.5" y2="315.5" stroke="#8f8f8f" stroke-width="3"/>
<line x1="2471.7" y1="46.8" x2="2471.7" y2="314.5" stroke="#707070" stroke-width="1.6"/>
<line x1="1785.5" y1="314.5" x2="2471.7" y2="314.5" stroke="#a0a0a0" stroke-width="2.2"/>
<line x1="2465.7" y1="281.0" x2="2471.7" y2="281.0" stroke="#9a9a9a" stroke-width="1.2"/>
<line x1="1785.5" y1="281.0" x2="1790.5" y2="281.0" stroke="#9a9a9a" stroke-width="1.2"/>
<line x1="2465.7" y1="247.6" x2="2471.7" y2="247.6" stroke="#9a9a9a" stroke-width="1.2"/>
<line x1="1785.5" y1="247.6" x2="1790.5" y2="247.6" stroke="#9a9a9a" stroke-width="1.2"/>
<line x1="2465.7" y1="214.1" x2="2471.7" y2="214.1" stroke="#9a9a9a" stroke-width="1.2"/>
<line x1="1785.5" y1="214.1" x2="1790.5" y2="214.1" stroke="#9a9a9a" stroke-width="1.2"/>
<line x1="2465.7" y1="180.7" x2="2471.7" y2="180.7" stroke="#9a9a9a" stroke-width="1.2"/>
<line x1="1785.5" y1="180.7" x2="1790.5" y2="180.7" stroke="#9a9a9a" stroke-width="1.2"/>
<line x1="2465.7" y1="147.2" x2="2471.7" y2="147.2" stroke="#9a9a9a" stroke-width="1.2"/>
<line x1="1785.5" y1="147.2" x2="1790.5" y2="147.2" stroke="#9a9a9a" stroke-width="1.2"/>
<line x1="2465.7" y1="113.7" x2="2471.7" y2="113.7" stroke="#9a9a9a" stroke-width="1.2"/>
<line x1="1785.5" y1="113.7" x2="1790.5" y2="113.7" stroke="#9a9a9a" stroke-width="1.2"/>
<line x1="2465.7" y1="80.3" x2="2471.7" y2="80.3" stroke="#9a9a9a" stroke-width="1.2"/>
<line x1="1785.5" y1="80.3" x2="1790.5" y2="80.3" stroke="#9a9a9a" stroke-width="1.2"/>
<polyline points="1809.5,49.2 1811.2,54.8 1812.9,60.3 1814.7,65.7 1816.4,70.9 1818.1,76.1 1819.8,81.1 1821.5,86.1 1823.2,90.9 1825.0,95.6 1826.7,100.3 1828.4,104.8 1830.1,109.3 1831.8,113.6 1833.5,117.9 1835.2,122.0 1837.0,126.1 1838.7,130.1 1840.4,134.0 1842.1,137.8 1843.8,141.6 1845.5,145.2 1847.3,148.8 1849.0,152.3 1850.7,155.7 1852.4,159.1 1854.1,162.4 1855.8,165.6 1857.6,168.8 1859.3,171.8 1861.0,174.9 1862.7,177.8 1864.4,180.7 1866.1,183.6 1867.8,186.3 1869.6,189.0 1871.3,191.7 1873.0,194.3 1874.7,196.8 1876.4,199.3 1878.1,201.8 1879.9,204.2 1881.6,206.5 1883.3,208.8 1885.0,211.0 1886.7,213.2 1888.4,215.4 1890.1,217.5 1891.9,219.5 1893.6,221.5 1895.3,223.5 1897.0,225.4 1898.7,227.3 1900.4,229.1 1902.2,231.0 1903.9,232.7 1905.6,234.5 1907.3,236.1 1909.0,237.8 1910.7,239.4 1912.4,241.0 1914.2,242.6 1915.9,244.1 1917.6,245.6 1919.3,247.0 1921.0,248.5 1922.7,249.9 1924.5,251.2 1926.2,252.6 1927.9,253.9 1929.6,255.2 1931.3,256.4 1933.0,257.7 1934.7,258.9 1936.5,260.0 1938.2,261.2 1939.9,262.3 1941.6,263.4 1943.3,264.5 1945.0,265.6 1946.8,266.6 1948.5,267.6 1950.2,268.6 1951.9,269.6 1953.6,270.5 1955.3,271.5 1957.1,272.4 1958.8,273.3 1960.5,274.1 1962.2,275.0 1963.9,275.8 1965.6,276.7 1967.3,277.5 1969.1,278.2 1970.8,279.0 1972.5,279.8 1974.2,280.5 1975.9,281.2 1977.6,281.9 1979.4,282.6 1981.1,283.3 1982.8,283.9 1984.5,284.6 1986.2,285.2 1987.9,285.8 1989.6,286.4 1991.4,287.0 1993.1,287.6 1994.8,288.2 1996.5,288.8 1998.2,289.3 1999.9,289.8 2001.7,290.4 2003.4,290.9 2005.1,291.4 2006.8,291.9 2008.5,292.3 2010.2,292.8 2011.9,293.3 2013.7,293.7 2015.4,294.2 2017.1,294.6 2018.8,295.0 2020.5,295.4 2022.2,295.8 2024.0,296.2 2025.7,296.6 2027.4,297.0 2029.1,297.4 2030.8,297.7 2032.5,298.1 2034.2,298.4 2036.0,298.8 2037.7,299.1 2039.4,299.4 2041.1,299.7 2042.8,300.1 2044.5,300.4 2046.3,300.7 2048.0,300.9 2049.7,301.2 2051.4,301.5 2053.1,301.8 2054.8,302.1 2056.5,302.3 2058.3,302.6 2060.0,302.8 2061.7,303.1 2063.4,303.3 2065.1,303.6 2066.8,303.8 2068.6,304.0 2070.3,304.2 2072.0,304.5 2073.7,304.7 2075.4,304.9 2077.1,305.1 2078.9,305.3 2080.6,305.5 2082.3,305.7 2084.0,305.9 2085.7,306.0 2087.4,306.2 2089.1,306.4 2090.9,306.6 2092.6,306.7 2094.3,306.9 2096.0,307.1 2097.7,307.2 2099.4,307.4 2101.2,307.5 2102.9,307.7 2104.6,307.8 2106.3,308.0 2108.0,308.1 2109.7,308.2 2111.4,308.4 2113.2,308.5 2114.9,308.6 2116.6,308.7 2118.3,308.9 2120.0,309.0 2121.7,309.1 2123.5,309.2 2125.2,309.3 2126.9,309.4 2128.6,309.5 2130.3,309.6 2132.0,309.8 2133.7,309.9 2135.5,310.0 2137.2,310.0 2138.9,310.1 2140.6,310.2 2142.3,310.3 2144.0,310.4 2145.8,310.5 2147.5,310.6 2149.2,310.7 2150.9,310.7 2152.6,310.8 2154.3,310.9 2156.0,311.0 2157.8,311.1 2159.5,311.1 2161.2,311.2 2162.9,311.3 2164.6,311.3 2166.3,311.4 2168.1,311.5 2169.8,311.5 2171.5,311.6 2173.2,311.7 2174.9,311.7 2176.6,311.8 2178.3,311.8 2180.1,311.9 2181.8,311.9 2183.5,312.0 2185.2,312.1 2186.9,312.1 2188.6,312.2 2190.4,312.2 2192.1,312.3 2193.8,312.3 2195.5,312.3 2197.2,312.4 2198.9,312.4 2200.7,312.5 2202.4,312.5 2204.1,312.6 2205.8,312.6 2207.5,312.6 2209.2,312.7 2210.9,312.7 2212.7,312.8 2214.4,312.8 2216.1,312.8 2217.8,312.9 2219.5,312.9 2221.2,312.9 2223.0,313.0 2224.7,313.0 2226.4,313.0 2228.1,313.1 2229.8,313.1 2231.5,313.1 2233.2,313.2 2235.0,313.2 2236.7,313.2 2238.4,313.2 2240.1,313.3 2241.8,313.3 2243.5,313.3 2245.3,313.3 2247.0,313.4 2248.7,313.4 2250.4,313.4 2252.1,313.4 2253.8,313.5 2255.5,313.5 2257.3,313.5 2259.0,313.5 2260.7,313.5 2262.4,313.6 2264.1,313.6 2265.8,313.6 2267.6,313.6 2269.3,313.6 2271.0,313.7 2272.7,313.7 2274.4,313.7 2276.1,313.7 2277.8,313.7 2279.6,313.7 2281.3,313.8 2283.0,313.8 2284.7,313.8 2286.4,313.8 2288.1,313.8 2289.9,313.8 2291.6,313.9 2293.3,313.9 2295.0,313.9 2296.7,313.9 2298.4,313.9 2300.1,313.9 2301.9,313.9 2303.6,313.9 2305.3,314.0 2307.0,314.0 2308.7,314.0 2310.4,314.0 2312.2,314.0 2313.9,314.0 2315.6,314.0 2317.3,314.0 2319.0,314.0 2320.7,314.0 2322.5,314.1 2324.2,314.1 2325.9,314.1 2327.6,314.1 2329.3,314.1 2331.0,314.1 2332.7,314.1 2334.5,314.1 2336.2,314.1 2337.9,314.1 2339.6,314.1 2341.3,314.2 2343.0,314.2 2344.8,314.2 2346.5,314.2 2348.2,314.2 2349.9,314.2 2351.6,314.2 2353.3,314.2 2355.0,314.2 2356.8,314.2 2358.5,314.2 2360.2,314.2 2361.9,314.2 2363.6,314.2 2365.3,314.2 2367.1,314.2 2368.8,314.3 2370.5,314.3 2372.2,314.3 2373.9,314.3 2375.6,314.3 2377.3,314.3 2379.1,314.3 2380.8,314.3 2382.5,314.3 2384.2,314.3 2385.9,314.3 2387.6,314.3 2389.4,314.3 2391.1,314.3 2392.8,314.3 2394.5,314.3 2396.2,314.3 2397.9,314.3 2399.6,314.3 2401.4,314.3 2403.1,314.3 2404.8,314.3 2406.5,314.3 2408.2,314.3 2409.9,314.4 2411.7,314.4 2413.4,314.4 2415.1,314.4 2416.8,314.4 2418.5,314.4 2420.2,314.4 2422.0,314.4 2423.7,314.4 2425.4,314.4 2427.1,314.4 2428.8,314.4 2430.5,314.4 2432.2,314.4 2434.0,314.4 2435.7,314.4 2437.4,314.4 2439.1,314.4 2440.8,314.4 2442.5,314.4 2444.3,314.4 2446.0,314.4 2447.7,314.4 2449.4,314.4 2451.1,314.4 2452.8,314.4 2454.5,314.4 2456.3,314.4 2458.0,314.4 2459.7,314.4 2461.4,314.4 2463.1,314.4 2464.8,314.4 2466.6,314.4 2468.3,314.4 2470.0,314.4 2471.7,314.4" fill="none" stroke="#bd4a4c" stroke-width="3.4"/>
<rect x="1789.0" y="353.3" width="688.6" height="265.9" fill="none" stroke="#c8c8c8" stroke-width="1.6"/>
<rect x="1789.0" y="479.8" width="65.9" height="139.4" fill="#2f355f" stroke="#23284a" stroke-width="0.8"/>
<rect x="1854.9" y="527.8" width="66.4" height="91.4" fill="#2f355f" stroke="#23284a" stroke-width="0.8"/>
<rect x="1921.3" y="552.9" width="65.7" height="66.3" fill="#2f355f" stroke="#23284a" stroke-width="0.8"/>
<rect x="1987.0" y="577.7" width="65.0" height="41.5" fill="#2f355f" stroke="#23284a" stroke-width="0.8"/>
<rect x="2052.0" y="587.0" width="66.1" height="32.2" fill="#2f355f" stroke="#23284a" stroke-width="0.8"/>
<rect x="2118.1" y="599.8" width="66.1" height="19.4" fill="#2f355f" stroke="#23284a" stroke-width="0.8"/>
<rect x="2184.2" y="606.3" width="65.0" height="12.9" fill="#2f355f" stroke="#23284a" stroke-width="0.8"/>
<rect x="2249.2" y="607.4" width="65.0" height="11.8" fill="#2f355f" stroke="#23284a" stroke-width="0.8"/>
<rect x="2314.2" y="613.0" width="66.1" height="6.2" fill="#2f355f" stroke="#23284a" stroke-width="0.8"/>
<rect x="2380.3" y="614.8" width="65.7" height="4.4" fill="#2f355f" stroke="#23284a" stroke-width="0.8"/>
<line x1="1789.0" y1="353.3" x2="1789.0" y2="620.2" stroke="#8f8f8f" stroke-width="2.4"/>
<line x1="2477.6" y1="353.3" x2="2477.6" y2="619.2" stroke="#8a8a8a" stroke-width="1.4"/>
<line x1="1789.0" y1="619.2" x2="2477.6" y2="619.2" stroke="#a0a0a0" stroke-width="2"/>
<line x1="2471.6" y1="586.0" x2="2477.6" y2="586.0" stroke="#9a9a9a" stroke-width="1.2"/>
<line x1="1789.0" y1="586.0" x2="1794.0" y2="586.0" stroke="#9a9a9a" stroke-width="1.2"/>
<line x1="2471.6" y1="552.7" x2="2477.6" y2="552.7" stroke="#9a9a9a" stroke-width="1.2"/>
<line x1="1789.0" y1="552.7" x2="1794.0" y2="552.7" stroke="#9a9a9a" stroke-width="1.2"/>
<line x1="2471.6" y1="519.5" x2="2477.6" y2="519.5" stroke="#9a9a9a" stroke-width="1.2"/>
<line x1="1789.0" y1="519.5" x2="1794.0" y2="519.5" stroke="#9a9a9a" stroke-width="1.2"/>
<line x1="2471.6" y1="486.2" x2="2477.6" y2="486.2" stroke="#9a9a9a" stroke-width="1.2"/>
<line x1="1789.0" y1="486.2" x2="1794.0" y2="486.2" stroke="#9a9a9a" stroke-width="1.2"/>
<line x1="2471.6" y1="453.0" x2="2477.6" y2="453.0" stroke="#9a9a9a" stroke-width="1.2"/>
<line x1="1789.0" y1="453.0" x2="1794.0" y2="453.0" stroke="#9a9a9a" stroke-width="1.2"/>
<line x1="2471.6" y1="419.8" x2="2477.6" y2="419.8" stroke="#9a9a9a" stroke-width="1.2"/>
<line x1="1789.0" y1="419.8" x2="1794.0" y2="419.8" stroke="#9a9a9a" stroke-width="1.2"/>
<line x1="2471.6" y1="386.5" x2="2477.6" y2="386.5" stroke="#9a9a9a" stroke-width="1.2"/>
<line x1="1789.0" y1="386.5" x2="1794.0" y2="386.5" stroke="#9a9a9a" stroke-width="1.2"/>
<line x1="1961.2" y1="353.3" x2="1961.2" y2="358.3" stroke="#9a9a9a" stroke-width="1.2"/>
<line x1="1957.0" y1="46.8" x2="1957.0" y2="51.8" stroke="#9a9a9a" stroke-width="1.2"/>
<line x1="2133.3" y1="353.3" x2="2133.3" y2="358.3" stroke="#9a9a9a" stroke-width="1.2"/>
<line x1="2128.6" y1="46.8" x2="2128.6" y2="51.8" stroke="#9a9a9a" stroke-width="1.2"/>
<line x1="2305.4" y1="353.3" x2="2305.4" y2="358.3" stroke="#9a9a9a" stroke-width="1.2"/>
<line x1="2300.1" y1="46.8" x2="2300.1" y2="51.8" stroke="#9a9a9a" stroke-width="1.2"/>
<polyline points="1789.0,455.5 1792.4,458.7 1795.9,461.8 1799.3,464.9 1802.8,467.9 1806.2,470.8 1809.7,473.7 1813.1,476.6 1816.5,479.4 1820.0,482.1 1823.4,484.8 1826.9,487.4 1830.3,490.0 1833.8,492.5 1837.2,495.0 1840.6,497.4 1844.1,499.8 1847.5,502.1 1851.0,504.4 1854.4,506.6 1857.9,508.8 1861.3,511.0 1864.7,513.1 1868.2,515.1 1871.6,517.2 1875.1,519.2 1878.5,521.1 1882.0,523.0 1885.4,524.9 1888.8,526.7 1892.3,528.5 1895.7,530.3 1899.2,532.0 1902.6,533.7 1906.1,535.4 1909.5,537.0 1912.9,538.6 1916.4,540.2 1919.8,541.8 1923.3,543.3 1926.7,544.8 1930.2,546.2 1933.6,547.6 1937.0,549.0 1940.5,550.4 1943.9,551.7 1947.4,553.1 1950.8,554.3 1954.3,555.6 1957.7,556.8 1961.2,558.1 1964.6,559.3 1968.0,560.4 1971.5,561.6 1974.9,562.7 1978.4,563.8 1981.8,564.9 1985.3,565.9 1988.7,567.0 1992.1,568.0 1995.6,569.0 1999.0,570.0 2002.5,570.9 2005.9,571.9 2009.4,572.8 2012.8,573.7 2016.2,574.6 2019.7,575.5 2023.1,576.3 2026.6,577.2 2030.0,578.0 2033.5,578.8 2036.9,579.6 2040.3,580.3 2043.8,581.1 2047.2,581.8 2050.7,582.6 2054.1,583.3 2057.6,584.0 2061.0,584.7 2064.4,585.3 2067.9,586.0 2071.3,586.7 2074.8,587.3 2078.2,587.9 2081.7,588.5 2085.1,589.1 2088.5,589.7 2092.0,590.3 2095.4,590.8 2098.9,591.4 2102.3,591.9 2105.8,592.5 2109.2,593.0 2112.6,593.5 2116.1,594.0 2119.5,594.5 2123.0,595.0 2126.4,595.5 2129.9,595.9 2133.3,596.4 2136.7,596.8 2140.2,597.3 2143.6,597.7 2147.1,598.1 2150.5,598.5 2154.0,598.9 2157.4,599.3 2160.8,599.7 2164.3,600.1 2167.7,600.5 2171.2,600.8 2174.6,601.2 2178.1,601.5 2181.5,601.9 2184.9,602.2 2188.4,602.5 2191.8,602.9 2195.3,603.2 2198.7,603.5 2202.2,603.8 2205.6,604.1 2209.0,604.4 2212.5,604.7 2215.9,605.0 2219.4,605.2 2222.8,605.5 2226.3,605.8 2229.7,606.0 2233.1,606.3 2236.6,606.6 2240.0,606.8 2243.5,607.0 2246.9,607.3 2250.4,607.5 2253.8,607.7 2257.2,608.0 2260.7,608.2 2264.1,608.4 2267.6,608.6 2271.0,608.8 2274.5,609.0 2277.9,609.2 2281.3,609.4 2284.8,609.6 2288.2,609.8 2291.7,610.0 2295.1,610.2 2298.6,610.3 2302.0,610.5 2305.5,610.7 2308.9,610.8 2312.3,611.0 2315.8,611.2 2319.2,611.3 2322.7,611.5 2326.1,611.6 2329.6,611.8 2333.0,611.9 2336.4,612.1 2339.9,612.2 2343.3,612.3 2346.8,612.5 2350.2,612.6 2353.7,612.7 2357.1,612.9 2360.5,613.0 2364.0,613.1 2367.4,613.2 2370.9,613.3 2374.3,613.5 2377.8,613.6 2381.2,613.7 2384.6,613.8 2388.1,613.9 2391.5,614.0 2395.0,614.1 2398.4,614.2 2401.9,614.3 2405.3,614.4 2408.7,614.5 2412.2,614.6 2415.6,614.7 2419.1,614.7 2422.5,614.8 2426.0,614.9 2429.4,615.0 2432.8,615.1 2436.3,615.2 2439.7,615.2 2443.2,615.3 2446.6,615.4 2450.1,615.5 2453.5,615.5 2456.9,615.6 2460.4,615.7 2463.8,615.8 2467.3,615.8 2470.7,615.9 2474.2,616.0 2477.6,616.0" fill="none" stroke="#bd4a4c" stroke-width="3.4"/>
<line x1="1656" y1="601.5" x2="1675" y2="601.5" stroke="#b0b0b0" stroke-width="1.5"/>
<text transform="translate(1653.26 33.31) scale(1.0000 1.0000)" x="0" y="0" style="font-family:'Liberation Sans', Arial, Helvetica, sans-serif;font-weight:bold;font-size:39.0px" fill="#000">C</text>
<text transform="translate(1720.10 60.28) scale(1.0000 1.0000)" x="0" y="0" style="font-family:'Liberation Sans', Arial, Helvetica, sans-serif;font-size:44.0px" fill="#111">1.6</text>
<text transform="translate(1718.92 126.50) scale(1.0000 1.0000)" x="0" y="0" style="font-family:'Liberation Sans', Arial, Helvetica, sans-serif;font-size:44.0px" fill="#111">1.2</text>
<text transform="translate(1718.42 197.58) scale(1.0000 1.0000)" x="0" y="0" style="font-family:'Liberation Sans', Arial, Helvetica, sans-serif;font-size:44.0px" fill="#111">0.8</text>
<text transform="translate(1719.45 262.23) scale(1.0000 1.0000)" x="0" y="0" style="font-family:'Liberation Sans', Arial, Helvetica, sans-serif;font-size:44.0px" fill="#111">0.4</text>
<text transform="translate(1747.38 328.08) scale(1.0000 1.0000)" x="0" y="0" style="font-family:'Liberation Sans', Arial, Helvetica, sans-serif;font-size:44.0px" fill="#111">0</text>
<text transform="translate(1723.40 368.78) scale(1.0000 1.0000)" x="0" y="0" style="font-family:'Liberation Sans', Arial, Helvetica, sans-serif;font-size:44.0px" fill="#111">1.6</text>
<text transform="translate(1721.92 435.65) scale(1.0000 1.0000)" x="0" y="0" style="font-family:'Liberation Sans', Arial, Helvetica, sans-serif;font-size:44.0px" fill="#111">1.2</text>
<text transform="translate(1722.22 498.13) scale(1.0000 1.0000)" x="0" y="0" style="font-family:'Liberation Sans', Arial, Helvetica, sans-serif;font-size:44.0px" fill="#111">0.8</text>
<text transform="translate(1721.70 565.58) scale(1.0000 1.0000)" x="0" y="0" style="font-family:'Liberation Sans', Arial, Helvetica, sans-serif;font-size:44.0px" fill="#111">0.4</text>
<text transform="translate(1748.88 634.13) scale(1.0000 1.0000)" x="0" y="0" style="font-family:'Liberation Sans', Arial, Helvetica, sans-serif;font-size:44.0px" fill="#111">0</text>
<text transform="translate(1775.63 656.13) scale(1.0000 1.0000)" x="0" y="0" style="font-family:'Liberation Sans', Arial, Helvetica, sans-serif;font-size:44.0px" fill="#111">0</text>
<text transform="translate(1953.33 655.03) scale(1.0000 1.0000)" x="0" y="0" style="font-family:'Liberation Sans', Arial, Helvetica, sans-serif;font-size:44.0px" fill="#111">1</text>
<text transform="translate(2120.54 655.25) scale(1.0000 1.0000)" x="0" y="0" style="font-family:'Liberation Sans', Arial, Helvetica, sans-serif;font-size:44.0px" fill="#111">2</text>
<text transform="translate(2303.49 655.03) scale(1.0000 1.0000)" x="0" y="0" style="font-family:'Liberation Sans', Arial, Helvetica, sans-serif;font-size:44.0px" fill="#111">3</text>
<text transform="translate(2462.11 655.03) scale(1.0000 1.0000)" x="0" y="0" style="font-family:'Liberation Sans', Arial, Helvetica, sans-serif;font-size:44.0px" fill="#111">4</text>
<line x1="488.8" y1="722.0" x2="488.8" y2="1219.3" stroke="#a4a4a4" stroke-width="2"/>
<line x1="488.8" y1="1219.3" x2="1194.7" y2="1219.3" stroke="#c4c4c4" stroke-width="2.6"/>
<line x1="488.8" y1="1130.3" x2="495.8" y2="1130.3" stroke="#8c8c8c" stroke-width="1.2"/>
<line x1="488.8" y1="1041.3" x2="495.8" y2="1041.3" stroke="#8c8c8c" stroke-width="1.2"/>
<line x1="488.8" y1="952.3" x2="495.8" y2="952.3" stroke="#8c8c8c" stroke-width="1.2"/>
<line x1="488.8" y1="863.3" x2="495.8" y2="863.3" stroke="#8c8c8c" stroke-width="1.2"/>
<line x1="488.8" y1="774.3" x2="495.8" y2="774.3" stroke="#8c8c8c" stroke-width="1.2"/>
<line x1="665.3" y1="1219.3" x2="665.3" y2="1212.3" stroke="#8c8c8c" stroke-width="1.2"/>
<line x1="841.8" y1="1219.3" x2="841.8" y2="1212.3" stroke="#8c8c8c" stroke-width="1.2"/>
<line x1="1018.2" y1="1219.3" x2="1018.2" y2="1212.3" stroke="#8c8c8c" stroke-width="1.2"/>
<line x1="1194.7" y1="1219.3" x2="1194.7" y2="1212.3" stroke="#8c8c8c" stroke-width="1.2"/>
<polyline points="488.8,769.7 492.3,775.7 495.9,781.7 499.4,787.6 502.9,793.5 506.4,799.2 510.0,804.9 513.5,810.5 517.0,816.0 520.6,821.5 524.1,826.8 527.6,832.1 531.2,837.4 534.7,842.5 538.2,847.6 541.7,852.6 545.3,857.6 548.8,862.5 552.3,867.3 555.9,872.1 559.4,876.7 562.9,881.4 566.4,885.9 570.0,890.4 573.5,894.9 577.0,899.3 580.6,903.6 584.1,907.9 587.6,912.1 591.2,916.2 594.7,920.3 598.2,924.3 601.7,928.3 605.3,932.3 608.8,936.1 612.3,940.0 615.9,943.7 619.4,947.5 622.9,951.1 626.5,954.8 630.0,958.3 633.5,961.9 637.0,965.3 640.6,968.8 644.1,972.1 647.6,975.5 651.2,978.8 654.7,982.0 658.2,985.2 661.7,988.4 665.3,991.5 668.8,994.6 672.3,997.6 675.9,1000.6 679.4,1003.6 682.9,1006.5 686.5,1009.4 690.0,1012.2 693.5,1015.0 697.0,1017.8 700.6,1020.5 704.1,1023.2 707.6,1025.8 711.2,1028.4 714.7,1031.0 718.2,1033.5 721.7,1036.1 725.3,1038.5 728.8,1041.0 732.3,1043.4 735.9,1045.8 739.4,1048.1 742.9,1050.4 746.5,1052.7 750.0,1054.9 753.5,1057.2 757.0,1059.4 760.6,1061.5 764.1,1063.6 767.6,1065.8 771.2,1067.8 774.7,1069.9 778.2,1071.9 781.7,1073.9 785.3,1075.8 788.8,1077.8 792.3,1079.7 795.9,1081.6 799.4,1083.4 802.9,1085.3 806.5,1087.1 810.0,1088.9 813.5,1090.6 817.0,1092.4 820.6,1094.1 824.1,1095.8 827.6,1097.4 831.2,1099.1 834.7,1100.7 838.2,1102.3 841.8,1103.9 845.3,1105.5 848.8,1107.0 852.3,1108.5 855.9,1110.0 859.4,1111.5 862.9,1112.9 866.5,1114.4 870.0,1115.8 873.5,1117.2 877.0,1118.6 880.6,1119.9 884.1,1121.3 887.6,1122.6 891.2,1123.9 894.7,1125.2 898.2,1126.5 901.8,1127.7 905.3,1129.0 908.8,1130.2 912.3,1131.4 915.9,1132.6 919.4,1133.7 922.9,1134.9 926.5,1136.0 930.0,1137.2 933.5,1138.3 937.0,1139.4 940.6,1140.4 944.1,1141.5 947.6,1142.6 951.2,1143.6 954.7,1144.6 958.2,1145.6 961.8,1146.6 965.3,1147.6 968.8,1148.6 972.3,1149.5 975.9,1150.5 979.4,1151.4 982.9,1152.3 986.5,1153.2 990.0,1154.1 993.5,1155.0 997.0,1155.9 1000.6,1156.7 1004.1,1157.6 1007.6,1158.4 1011.2,1159.2 1014.7,1160.0 1018.2,1160.8 1021.8,1161.6 1025.3,1162.4 1028.8,1163.2 1032.3,1163.9 1035.9,1164.7 1039.4,1165.4 1042.9,1166.1 1046.5,1166.9 1050.0,1167.6 1053.5,1168.3 1057.0,1169.0 1060.6,1169.6 1064.1,1170.3 1067.6,1171.0 1071.2,1171.6 1074.7,1172.3 1078.2,1172.9 1081.8,1173.5 1085.3,1174.1 1088.8,1174.8 1092.3,1175.4 1095.9,1176.0 1099.4,1176.5 1102.9,1177.1 1106.5,1177.7 1110.0,1178.2 1113.5,1178.8 1117.1,1179.4 1120.6,1179.9 1124.1,1180.4 1127.6,1180.9 1131.2,1181.5 1134.7,1182.0 1138.2,1182.5 1141.8,1183.0 1145.3,1183.5 1148.8,1184.0 1152.3,1184.4 1155.9,1184.9 1159.4,1185.4 1162.9,1185.8 1166.5,1186.3 1170.0,1186.7 1173.5,1187.2 1177.1,1187.6 1180.6,1188.0 1184.1,1188.4 1187.6,1188.9 1191.2,1189.3 1194.7,1189.7" fill="none" stroke="#1c1c1c" stroke-width="3.4"/>
<polyline points="488.8,1165.9 492.3,1165.5 495.9,1165.0 499.4,1164.6 502.9,1164.1 506.4,1163.7 510.0,1163.2 513.5,1162.8 517.0,1162.3 520.6,1161.9 524.1,1161.4 527.6,1160.9 531.2,1160.4 534.7,1160.0 538.2,1159.5 541.7,1159.0 545.3,1158.5 548.8,1158.0 552.3,1157.5 555.9,1157.0 559.4,1156.5 562.9,1156.0 566.4,1155.5 570.0,1155.0 573.5,1154.4 577.0,1153.9 580.6,1153.4 584.1,1152.8 587.6,1152.3 591.2,1151.8 594.7,1151.2 598.2,1150.7 601.7,1150.1 605.3,1149.5 608.8,1149.0 612.3,1148.4 615.9,1147.8 619.4,1147.2 622.9,1146.7 626.5,1146.1 630.0,1145.5 633.5,1144.9 637.0,1144.3 640.6,1143.7 644.1,1143.0 647.6,1142.4 651.2,1141.8 654.7,1141.2 658.2,1140.5 661.7,1139.9 665.3,1139.2 668.8,1138.6 672.3,1137.9 675.9,1137.3 679.4,1136.6 682.9,1135.9 686.5,1135.3 690.0,1134.6 693.5,1133.9 697.0,1133.2 700.6,1132.5 704.1,1131.8 707.6,1131.1 711.2,1130.3 714.7,1129.6 718.2,1128.9 721.7,1128.2 725.3,1127.4 728.8,1126.7 732.3,1125.9 735.9,1125.2 739.4,1124.4 742.9,1123.6 746.5,1122.8 750.0,1122.1 753.5,1121.3 757.0,1120.5 760.6,1119.7 764.1,1118.9 767.6,1118.0 771.2,1117.2 774.7,1116.4 778.2,1115.5 781.7,1114.7 785.3,1113.9 788.8,1113.0 792.3,1112.1 795.9,1111.3 799.4,1110.4 802.9,1109.5 806.5,1108.6 810.0,1107.7 813.5,1106.8 817.0,1105.9 820.6,1105.0 824.1,1104.0 827.6,1103.1 831.2,1102.1 834.7,1101.2 838.2,1100.2 841.8,1099.3 845.3,1098.3 848.8,1097.3 852.3,1096.3 855.9,1095.3 859.4,1094.3 862.9,1093.3 866.5,1092.3 870.0,1091.2 873.5,1090.2 877.0,1089.1 880.6,1088.1 884.1,1087.0 887.6,1085.9 891.2,1084.8 894.7,1083.8 898.2,1082.7 901.8,1081.5 905.3,1080.4 908.8,1079.3 912.3,1078.2 915.9,1077.0 919.4,1075.8 922.9,1074.7 926.5,1073.5 930.0,1072.3 933.5,1071.1 937.0,1069.9 940.6,1068.7 944.1,1067.5 947.6,1066.2 951.2,1065.0 954.7,1063.7 958.2,1062.5 961.8,1061.2 965.3,1059.9 968.8,1058.6 972.3,1057.3 975.9,1056.0 979.4,1054.7 982.9,1053.3 986.5,1052.0 990.0,1050.6 993.5,1049.2 997.0,1047.9 1000.6,1046.5 1004.1,1045.1 1007.6,1043.6 1011.2,1042.2 1014.7,1040.8 1018.2,1039.3 1021.8,1037.9 1025.3,1036.4 1028.8,1034.9 1032.3,1033.4 1035.9,1031.9 1039.4,1030.4 1042.9,1028.8 1046.5,1027.3 1050.0,1025.7 1053.5,1024.1 1057.0,1022.6 1060.6,1021.0 1064.1,1019.3 1067.6,1017.7 1071.2,1016.1 1074.7,1014.4 1078.2,1012.8 1081.8,1011.1 1085.3,1009.4 1088.8,1007.7 1092.3,1006.0 1095.9,1004.2 1099.4,1002.5 1102.9,1000.7 1106.5,998.9 1110.0,997.1 1113.5,995.3 1117.1,993.5 1120.6,991.7 1124.1,989.8 1127.6,988.0 1131.2,986.1 1134.7,984.2 1138.2,982.3 1141.8,980.3 1145.3,978.4 1148.8,976.4 1152.3,974.5 1155.9,972.5 1159.4,970.5 1162.9,968.4 1166.5,966.4 1170.0,964.3 1173.5,962.3 1177.1,960.2 1180.6,958.1 1184.1,955.9 1187.6,953.8 1191.2,951.6 1194.7,949.5" fill="none" stroke="#1c1c1c" stroke-width="3.4"/>
<circle cx="488.8" cy="732.4" r="7.6" fill="#34488f"/>
<circle cx="526.0" cy="832.7" r="7.6" fill="#34488f"/>
<circle cx="563.1" cy="876.2" r="7.6" fill="#34488f"/>
<circle cx="600.3" cy="928.9" r="7.6" fill="#34488f"/>
<circle cx="637.4" cy="974.4" r="7.6" fill="#34488f"/>
<circle cx="674.6" cy="996.2" r="7.6" fill="#34488f"/>
<circle cx="711.7" cy="1029.1" r="7.6" fill="#34488f"/>
<circle cx="748.9" cy="1056.5" r="7.6" fill="#34488f"/>
<circle cx="786.0" cy="1081.3" r="7.6" fill="#34488f"/>
<circle cx="823.2" cy="1096.5" r="7.6" fill="#34488f"/>
<circle cx="860.3" cy="1113.2" r="7.6" fill="#34488f"/>
<circle cx="897.5" cy="1123.3" r="7.6" fill="#34488f"/>
<circle cx="934.6" cy="1137.5" r="7.6" fill="#34488f"/>
<circle cx="971.8" cy="1143.5" r="7.6" fill="#34488f"/>
<circle cx="1008.9" cy="1152.2" r="7.6" fill="#34488f"/>
<circle cx="1046.1" cy="1158.7" r="7.6" fill="#34488f"/>
<circle cx="1083.2" cy="1163.8" r="7.6" fill="#34488f"/>
<circle cx="1120.4" cy="1169.9" r="7.6" fill="#34488f"/>
<circle cx="1157.5" cy="1175.4" r="7.6" fill="#34488f"/>
<circle cx="1194.7" cy="1179.0" r="7.6" fill="#34488f"/>
<circle cx="488.8" cy="1161.3" r="7.6" fill="#b5303a"/>
<circle cx="526.0" cy="1153.7" r="7.6" fill="#b5303a"/>
<circle cx="563.1" cy="1151.1" r="7.6" fill="#b5303a"/>
<circle cx="600.3" cy="1145.1" r="7.6" fill="#b5303a"/>
<circle cx="637.4" cy="1143.5" r="7.6" fill="#b5303a"/>
<circle cx="674.6" cy="1137.0" r="7.6" fill="#b5303a"/>
<circle cx="711.7" cy="1132.6" r="7.6" fill="#b5303a"/>
<circle cx="748.9" cy="1120.8" r="7.6" fill="#b5303a"/>
<circle cx="786.0" cy="1117.2" r="7.6" fill="#b5303a"/>
<circle cx="823.2" cy="1109.1" r="7.6" fill="#b5303a"/>
<circle cx="860.3" cy="1098.5" r="7.6" fill="#b5303a"/>
<circle cx="897.5" cy="1088.4" r="7.6" fill="#b5303a"/>
<circle cx="934.6" cy="1080.3" r="7.6" fill="#b5303a"/>
<circle cx="971.8" cy="1066.6" r="7.6" fill="#b5303a"/>
<circle cx="1008.9" cy="1048.9" r="7.6" fill="#b5303a"/>
<circle cx="1046.1" cy="1036.7" r="7.6" fill="#b5303a"/>
<circle cx="1083.2" cy="1010.9" r="7.6" fill="#b5303a"/>
<circle cx="1120.4" cy="1008.4" r="7.6" fill="#b5303a"/>
<circle cx="1157.5" cy="969.9" r="7.6" fill="#b5303a"/>
<circle cx="1194.7" cy="918.2" r="7.6" fill="#b5303a"/>
<text transform="translate(357.61 697.70) scale(1.0000 1.0000)" x="0" y="0" style="font-family:'Liberation Sans', Arial, Helvetica, sans-serif;font-weight:bold;font-size:41.6px" fill="#000">D</text>
<text transform="translate(418.60 787.83) scale(1.0000 1.0000)" x="0" y="0" style="font-family:'Liberation Sans', Arial, Helvetica, sans-serif;font-size:44.0px" fill="#111">2.5</text>
<text transform="translate(440.34 877.35) scale(1.0000 1.0000)" x="0" y="0" style="font-family:'Liberation Sans', Arial, Helvetica, sans-serif;font-size:44.0px" fill="#111">2</text>
<text transform="translate(418.30 967.66) scale(1.0000 1.0000)" x="0" y="0" style="font-family:'Liberation Sans', Arial, Helvetica, sans-serif;font-size:44.0px" fill="#111">1.5</text>
<text transform="translate(441.83 1056.68) scale(1.0000 1.0000)" x="0" y="0" style="font-family:'Liberation Sans', Arial, Helvetica, sans-serif;font-size:44.0px" fill="#111">1</text>
<text transform="translate(421.72 1146.58) scale(1.0000 1.0000)" x="0" y="0" style="font-family:'Liberation Sans', Arial, Helvetica, sans-serif;font-size:44.0px" fill="#111">0.5</text>
<text transform="translate(436.03 1227.73) scale(1.0000 1.0000)" x="0" y="0" style="font-family:'Liberation Sans', Arial, Helvetica, sans-serif;font-size:44.0px" fill="#111">0</text>
<text transform="translate(459.92 1252.53) scale(1.0000 1.0000)" x="0" y="0" style="font-family:'Liberation Sans', Arial, Helvetica, sans-serif;font-size:44.0px" fill="#111">0.8</text>
<text transform="translate(626.81 1253.38) scale(1.0000 1.0000)" x="0" y="0" style="font-family:'Liberation Sans', Arial, Helvetica, sans-serif;font-size:44.0px" fill="#111">0.85</text>
<text transform="translate(810.03 1253.38) scale(1.0000 1.0000)" x="0" y="0" style="font-family:'Liberation Sans', Arial, Helvetica, sans-serif;font-size:44.0px" fill="#111">0.9</text>
<text transform="translate(969.86 1253.38) scale(1.0000 1.0000)" x="0" y="0" style="font-family:'Liberation Sans', Arial, Helvetica, sans-serif;font-size:44.0px" fill="#111">0.95</text>
<text transform="translate(1179.93 1253.28) scale(1.0000 1.0000)" x="0" y="0" style="font-family:'Liberation Sans', Arial, Helvetica, sans-serif;font-size:44.0px" fill="#111">1</text>
<text transform="translate(386.59 1107.93) rotate(-90) scale(1.0000 1.3000)" x="0" y="0" style="font-family:'Liberation Serif', 'Times New Roman', serif;font-style:italic;font-size:66.5px" fill="#222">(seconds)</text>
<line x1="1393.7" y1="713.3" x2="1393.7" y2="1218.8" stroke="#a4a4a4" stroke-width="2"/>
<line x1="1393.7" y1="1218.8" x2="2068.0" y2="1218.8" stroke="#b4b4b4" stroke-width="2.4"/>
<line x1="1393.7" y1="1117.7" x2="1400.7" y2="1117.7" stroke="#8c8c8c" stroke-width="1.2"/>
<line x1="1393.7" y1="1016.6" x2="1400.7" y2="1016.6" stroke="#8c8c8c" stroke-width="1.2"/>
<line x1="1393.7" y1="915.5" x2="1400.7" y2="915.5" stroke="#8c8c8c" stroke-width="1.2"/>
<line x1="1393.7" y1="814.4" x2="1400.7" y2="814.4" stroke="#8c8c8c" stroke-width="1.2"/>
<line x1="1393.7" y1="713.3" x2="1400.7" y2="713.3" stroke="#8c8c8c" stroke-width="1.2"/>
<line x1="1562.3" y1="1218.8" x2="1562.3" y2="1211.8" stroke="#8c8c8c" stroke-width="1.2"/>
<line x1="1730.8" y1="1218.8" x2="1730.8" y2="1211.8" stroke="#8c8c8c" stroke-width="1.2"/>
<line x1="1899.4" y1="1218.8" x2="1899.4" y2="1211.8" stroke="#8c8c8c" stroke-width="1.2"/>
<line x1="2068.0" y1="1218.8" x2="2068.0" y2="1211.8" stroke="#8c8c8c" stroke-width="1.2"/>
<line x1="1393.7" y1="966.0" x2="2068.0" y2="966.0" stroke="#9c9c9c" stroke-width="1.6"/>
<circle cx="1393.7" cy="1165.6" r="7.6" fill="#b5303a"/>
<circle cx="1429.2" cy="1147.3" r="7.6" fill="#b5303a"/>
<circle cx="1464.7" cy="1136.2" r="7.6" fill="#b5303a"/>
<circle cx="1500.2" cy="1117.5" r="7.6" fill="#b5303a"/>
<circle cx="1535.7" cy="1099.2" r="7.6" fill="#b5303a"/>
<circle cx="1571.1" cy="1083.0" r="7.6" fill="#b5303a"/>
<circle cx="1606.6" cy="1060.7" r="7.6" fill="#b5303a"/>
<circle cx="1642.1" cy="1028.8" r="7.6" fill="#b5303a"/>
<circle cx="1677.6" cy="1003.0" r="7.6" fill="#b5303a"/>
<circle cx="1713.1" cy="979.6" r="7.6" fill="#b5303a"/>
<circle cx="1748.6" cy="950.8" r="7.6" fill="#b5303a"/>
<circle cx="1784.1" cy="927.0" r="7.6" fill="#b5303a"/>
<circle cx="1819.6" cy="901.1" r="7.6" fill="#b5303a"/>
<circle cx="1855.1" cy="881.9" r="7.6" fill="#b5303a"/>
<circle cx="1890.6" cy="855.5" r="7.6" fill="#b5303a"/>
<circle cx="1926.0" cy="840.3" r="7.6" fill="#b5303a"/>
<circle cx="1961.5" cy="819.6" r="7.6" fill="#b5303a"/>
<circle cx="1997.0" cy="809.4" r="7.6" fill="#b5303a"/>
<circle cx="2032.5" cy="789.2" r="7.6" fill="#b5303a"/>
<circle cx="2068.0" cy="773.5" r="7.6" fill="#b5303a"/>
<text transform="translate(1270.74 697.70) scale(1.0000 1.0000)" x="0" y="0" style="font-family:'Liberation Sans', Arial, Helvetica, sans-serif;font-weight:bold;font-size:42.9px" fill="#000">E</text>
<text transform="translate(1351.68 729.03) scale(1.0000 1.0000)" x="0" y="0" style="font-family:'Liberation Sans', Arial, Helvetica, sans-serif;font-size:44.0px" fill="#111">1</text>
<text transform="translate(1330.82 830.88) scale(1.0000 1.0000)" x="0" y="0" style="font-family:'Liberation Sans', Arial, Helvetica, sans-serif;font-size:44.0px" fill="#111">0.8</text>
<text transform="translate(1332.12 930.23) scale(1.0000 1.0000)" x="0" y="0" style="font-family:'Liberation Sans', Arial, Helvetica, sans-serif;font-size:44.0px" fill="#111">0.6</text>
<text transform="translate(1331.90 1033.68) scale(1.0000 1.0000)" x="0" y="0" style="font-family:'Liberation Sans', Arial, Helvetica, sans-serif;font-size:44.0px" fill="#111">0.4</text>
<text transform="translate(1332.34 1135.18) scale(1.0000 1.0000)" x="0" y="0" style="font-family:'Liberation Sans', Arial, Helvetica, sans-serif;font-size:44.0px" fill="#111">0.2</text>
<text transform="translate(1340.28 1232.88) scale(1.0000 1.0000)" x="0" y="0" style="font-family:'Liberation Sans', Arial, Helvetica, sans-serif;font-size:44.0px" fill="#111">0</text>
<text transform="translate(1364.57 1255.98) scale(1.0000 1.0000)" x="0" y="0" style="font-family:'Liberation Sans', Arial, Helvetica, sans-serif;font-size:44.0px" fill="#111">0.8</text>
<text transform="translate(1514.96 1255.98) scale(1.0000 1.0000)" x="0" y="0" style="font-family:'Liberation Sans', Arial, Helvetica, sans-serif;font-size:44.0px" fill="#111">0.85</text>
<text transform="translate(1696.98 1255.98) scale(1.0000 1.0000)" x="0" y="0" style="font-family:'Liberation Sans', Arial, Helvetica, sans-serif;font-size:44.0px" fill="#111">0.9</text>
<text transform="translate(1859.41 1255.98) scale(1.0000 1.0000)" x="0" y="0" style="font-family:'Liberation Sans', Arial, Helvetica, sans-serif;font-size:44.0px" fill="#111">0.95</text>
<text transform="translate(2053.98 1255.98) scale(1.0000 1.0000)" x="0" y="0" style="font-family:'Liberation Sans', Arial, Helvetica, sans-serif;font-size:44.0px" fill="#111">1</text>
<text transform="translate(852.62 435.72) rotate(-90) scale(0.5466 0.6373)" x="0" y="0" style="font-family:'Liberation Serif', 'Times New Roman', serif;font-style:italic;font-size:100px" fill="#1e1e1e">p[I<tspan font-size="70%" dy="0.2em">R</tspan><tspan dy="-0.14em">&gt;I</tspan><tspan font-size="70%" dy="0.2em">L</tspan><tspan dy="-0.14em">|T</tspan><tspan font-size="70%" dy="-0.5em">*</tspan><tspan dy="0.35em">(n)]</tspan></text>
<text transform="translate(1321.40 1127.02) rotate(-90) scale(0.5306 0.6000)" x="0" y="0" style="font-family:'Liberation Serif', 'Times New Roman', serif;font-style:italic;font-size:100px" fill="#1e1e1e">p[I<tspan font-size="70%" dy="0.2em">R</tspan><tspan dy="-0.14em">&gt;I</tspan><tspan font-size="70%" dy="0.2em">L</tspan><tspan dy="-0.14em">|T</tspan><tspan font-size="70%" dy="-0.5em">*</tspan><tspan dy="0.35em">(∞)]</tspan></text>
<text transform="translate(1679.33 238.28) rotate(-90) scale(0.5538 0.5556)" x="0" y="0" style="font-family:'Liberation Serif', 'Times New Roman', serif;font-style:italic;font-size:100px" fill="#1e1e1e">p<tspan font-size="70%" dy="0.2em">L</tspan><tspan dy="-0.14em">(T</tspan><tspan font-size="70%" dy="0.2em">L</tspan><tspan dy="-0.14em">)</tspan></text>
<text transform="translate(1688.31 535.57) rotate(-90) scale(0.6054 0.6044)" x="0" y="0" style="font-family:'Liberation Serif', 'Times New Roman', serif;font-style:italic;font-size:100px" fill="#1e1e1e">p<tspan font-size="70%" dy="0.2em">R</tspan><tspan dy="-0.14em">(T</tspan><tspan font-size="70%" dy="0.2em">R</tspan><tspan dy="-0.14em">)</tspan></text>
<text transform="translate(1959.68 697.61) scale(0.6594 0.5605)" x="0" y="0" style="font-family:'Liberation Serif', 'Times New Roman', serif;font-style:italic;font-size:100px" fill="#1e1e1e">T<tspan font-size="70%" dy="0.2em">j</tspan><tspan dy="-0.14em" xml:space="preserve">  (seconds)</tspan></text>
<text transform="translate(999.95 986.03) scale(0.5136 0.6051)" x="0" y="0" style="font-family:'Liberation Serif', 'Times New Roman', serif;font-style:italic;font-size:100px" fill="#1e1e1e">&lt;T<tspan font-size="70%" dy="0.2em">R</tspan><tspan dy="-0.14em">&gt;</tspan></text>
<text transform="translate(1015.15 1136.51) scale(0.5316 0.6063)" x="0" y="0" style="font-family:'Liberation Serif', 'Times New Roman', serif;font-style:italic;font-size:100px" fill="#1e1e1e">&lt;T<tspan font-size="70%" dy="0.2em">L</tspan><tspan dy="-0.14em">&gt;</tspan></text>
<text transform="translate(1695.80 1313.73) scale(0.8107 0.7051)" x="0" y="0" style="font-family:'Liberation Serif', 'Times New Roman', serif;font-style:italic;font-size:100px" fill="#1e1e1e">I<tspan font-size="70%" dy="0.2em">R</tspan></text>
<text transform="translate(806.00 1313.54) scale(0.8160 0.7329)" x="0" y="0" style="font-family:'Liberation Serif', 'Times New Roman', serif;font-style:italic;font-size:100px" fill="#1e1e1e">I<tspan font-size="70%" dy="0.2em">R</tspan></text>
</svg></body></html>
